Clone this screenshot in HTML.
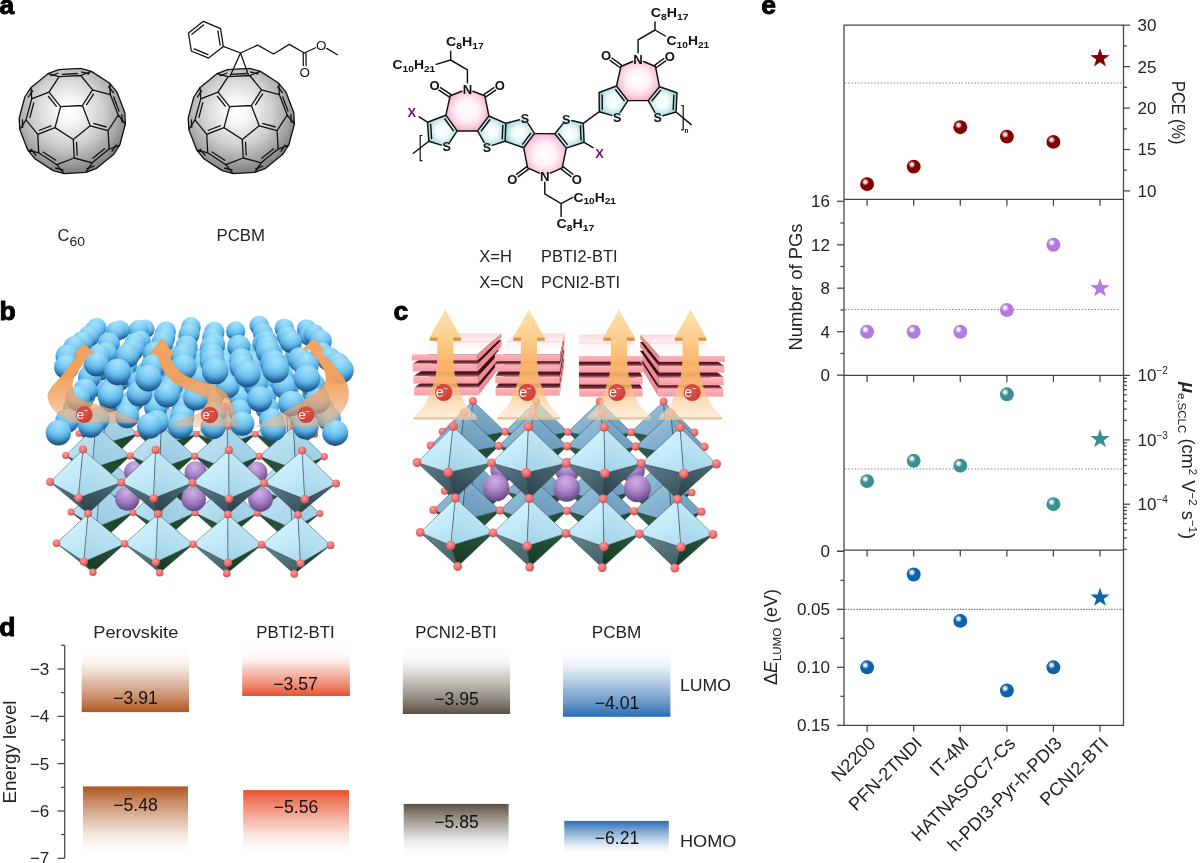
<!DOCTYPE html>
<html><head><meta charset="utf-8"><title>Figure</title>
<style>
html,body{margin:0;padding:0;background:#fff;}
body{width:1200px;height:863px;overflow:hidden;font-family:"Liberation Sans",sans-serif;}
svg{display:block;font-family:"Liberation Sans",sans-serif;}
</style></head><body>
<svg width="1200" height="863" viewBox="0 0 1200 863">
<rect width="1200" height="863" fill="#fff"/>
<g id="panel_d">
<defs>
<linearGradient id="dPerL" x1="0" y1="0" x2="0" y2="1"><stop offset="0" stop-color="#b0561f" stop-opacity="0"/><stop offset="0.15" stop-color="#b0561f" stop-opacity="0.025"/><stop offset="0.3" stop-color="#b0561f" stop-opacity="0.1"/><stop offset="0.55" stop-color="#b0561f" stop-opacity="0.4"/><stop offset="0.8" stop-color="#b0561f" stop-opacity="0.7"/><stop offset="1" stop-color="#b0561f"/></linearGradient>
<linearGradient id="dPerH" x1="0" y1="0" x2="0" y2="1"><stop offset="0" stop-color="#b0561f"/><stop offset="0.2" stop-color="#b0561f" stop-opacity="0.72"/><stop offset="0.45" stop-color="#b0561f" stop-opacity="0.42"/><stop offset="0.7" stop-color="#b0561f" stop-opacity="0.14"/><stop offset="0.88" stop-color="#b0561f" stop-opacity="0.03"/><stop offset="1" stop-color="#b0561f" stop-opacity="0"/></linearGradient>
<linearGradient id="dPbtL" x1="0" y1="0" x2="0" y2="1"><stop offset="0" stop-color="#e8512e" stop-opacity="0"/><stop offset="0.15" stop-color="#e8512e" stop-opacity="0.025"/><stop offset="0.3" stop-color="#e8512e" stop-opacity="0.1"/><stop offset="0.55" stop-color="#e8512e" stop-opacity="0.4"/><stop offset="0.8" stop-color="#e8512e" stop-opacity="0.7"/><stop offset="1" stop-color="#e8512e"/></linearGradient>
<linearGradient id="dPbtH" x1="0" y1="0" x2="0" y2="1"><stop offset="0" stop-color="#e8512e"/><stop offset="0.2" stop-color="#e8512e" stop-opacity="0.72"/><stop offset="0.45" stop-color="#e8512e" stop-opacity="0.42"/><stop offset="0.7" stop-color="#e8512e" stop-opacity="0.14"/><stop offset="0.88" stop-color="#e8512e" stop-opacity="0.03"/><stop offset="1" stop-color="#e8512e" stop-opacity="0"/></linearGradient>
<linearGradient id="dPcnL" x1="0" y1="0" x2="0" y2="1"><stop offset="0" stop-color="#5a5042" stop-opacity="0"/><stop offset="0.15" stop-color="#5a5042" stop-opacity="0.025"/><stop offset="0.3" stop-color="#5a5042" stop-opacity="0.1"/><stop offset="0.55" stop-color="#5a5042" stop-opacity="0.4"/><stop offset="0.8" stop-color="#5a5042" stop-opacity="0.7"/><stop offset="1" stop-color="#5a5042"/></linearGradient>
<linearGradient id="dPcnH" x1="0" y1="0" x2="0" y2="1"><stop offset="0" stop-color="#5a5042"/><stop offset="0.2" stop-color="#5a5042" stop-opacity="0.72"/><stop offset="0.45" stop-color="#5a5042" stop-opacity="0.42"/><stop offset="0.7" stop-color="#5a5042" stop-opacity="0.14"/><stop offset="0.88" stop-color="#5a5042" stop-opacity="0.03"/><stop offset="1" stop-color="#5a5042" stop-opacity="0"/></linearGradient>
<linearGradient id="dPcbL" x1="0" y1="0" x2="0" y2="1"><stop offset="0" stop-color="#2a6cb2" stop-opacity="0"/><stop offset="0.15" stop-color="#2a6cb2" stop-opacity="0.025"/><stop offset="0.3" stop-color="#2a6cb2" stop-opacity="0.1"/><stop offset="0.55" stop-color="#2a6cb2" stop-opacity="0.4"/><stop offset="0.8" stop-color="#2a6cb2" stop-opacity="0.7"/><stop offset="1" stop-color="#2a6cb2"/></linearGradient>
<linearGradient id="dPcbH" x1="0" y1="0" x2="0" y2="1"><stop offset="0" stop-color="#2a6cb2"/><stop offset="0.2" stop-color="#2a6cb2" stop-opacity="0.72"/><stop offset="0.45" stop-color="#2a6cb2" stop-opacity="0.42"/><stop offset="0.7" stop-color="#2a6cb2" stop-opacity="0.14"/><stop offset="0.88" stop-color="#2a6cb2" stop-opacity="0.03"/><stop offset="1" stop-color="#2a6cb2" stop-opacity="0"/></linearGradient>
</defs>
<rect x="81.7" y="646" width="107.3" height="66.1" fill="url(#dPerL)"/>
<rect x="83" y="786.4" width="105.0" height="68.6" fill="url(#dPerH)"/>
<rect x="242.2" y="646" width="107.7" height="50.0" fill="url(#dPbtL)"/>
<rect x="243.2" y="790.1" width="105.8" height="64.9" fill="url(#dPbtH)"/>
<rect x="402.8" y="646" width="107.3" height="68.0" fill="url(#dPcnL)"/>
<rect x="403.7" y="803.9" width="104.9" height="51.1" fill="url(#dPcnH)"/>
<rect x="563" y="646" width="107.4" height="70.8" fill="url(#dPcbL)"/>
<rect x="564.3" y="820.9" width="104.5" height="34.1" fill="url(#dPcbH)"/>
<g stroke="#444" stroke-width="1.25" fill="none">
<path d="M64.7 645.5V858.3"/>
<path d="M64.7 669.0h-7"/>
<path d="M64.7 716.3h-7"/>
<path d="M64.7 763.6h-7"/>
<path d="M64.7 811.0h-7"/>
<path d="M64.7 858.3h-7"/>
<path d="M64.7 645.3h-3.6"/>
<path d="M64.7 692.7h-3.6"/>
<path d="M64.7 740.0h-3.6"/>
<path d="M64.7 787.3h-3.6"/>
<path d="M64.7 834.6h-3.6"/>
</g>
<g font-size="17" fill="#222">
<text x="49.3" y="674.9" text-anchor="end">−3</text>
<text x="49.3" y="722.2" text-anchor="end">−4</text>
<text x="49.3" y="769.5" text-anchor="end">−5</text>
<text x="49.3" y="816.9" text-anchor="end">−6</text>
<text x="49.3" y="864.2" text-anchor="end">−7</text>
</g>
<text transform="translate(15.5,803.5) rotate(-90)" font-size="17.5" fill="#222" textLength="103" lengthAdjust="spacingAndGlyphs">Energy level</text>
<g font-size="17.4" fill="#222" text-anchor="middle">
<text x="135.8" y="637.8" textLength="85" lengthAdjust="spacingAndGlyphs">Perovskite</text>
<text x="295.5" y="637.8" textLength="78.5" lengthAdjust="spacingAndGlyphs">PBTI2-BTI</text>
<text x="456" y="637.8" textLength="81.5" lengthAdjust="spacingAndGlyphs">PCNI2-BTI</text>
<text x="616.5" y="637.8" textLength="49.5" lengthAdjust="spacingAndGlyphs">PCBM</text>
</g>
<g font-size="17.6" fill="#111" text-anchor="middle">
<text x="135.5" y="704">−3.91</text>
<text x="295.5" y="690">−3.57</text>
<text x="456.5" y="705">−3.95</text>
<text x="617" y="709">−4.01</text>
<text x="135.5" y="811">−5.48</text>
<text x="296" y="813">−5.56</text>
<text x="456.5" y="828">−5.85</text>
<text x="617" y="843.5">−6.21</text>
</g>
<g font-size="17.4" fill="#222"><text x="680" y="691.2" textLength="51" lengthAdjust="spacingAndGlyphs">LUMO</text><text x="680" y="847.2" textLength="56.5" lengthAdjust="spacingAndGlyphs">HOMO</text></g>
<text x="-0.8" y="635.5" font-size="26.5" font-weight="bold" fill="#000" stroke="#000" stroke-width="0.95">d</text>
</g>
<g id="panel_e">
<defs>
<radialGradient id="hl" cx="0.5" cy="0.5" r="0.5"><stop offset="0" stop-color="#fff" stop-opacity="1"/><stop offset="0.35" stop-color="#fff" stop-opacity="0.85"/><stop offset="1" stop-color="#fff" stop-opacity="0"/></radialGradient>
</defs>
<g stroke="#444" stroke-width="1.25" fill="none">
<path d="M844 25.2H1123.5V725.3H844Z"/>
<path d="M844 199.3H1123.5"/>
<path d="M844 375.45H1123.5"/>
<path d="M844 550H1123.5"/>
<path d="M867.1 199.3v6.5"/>
<path d="M913.7 199.3v6.5"/>
<path d="M960.3 199.3v6.5"/>
<path d="M1006.9 199.3v6.5"/>
<path d="M1053.4 199.3v6.5"/>
<path d="M1100.0 199.3v6.5"/>
<path d="M867.1 375.45v6.5"/>
<path d="M913.7 375.45v6.5"/>
<path d="M960.3 375.45v6.5"/>
<path d="M1006.9 375.45v6.5"/>
<path d="M1053.4 375.45v6.5"/>
<path d="M1100.0 375.45v6.5"/>
<path d="M867.1 550v6.5"/>
<path d="M913.7 550v6.5"/>
<path d="M960.3 550v6.5"/>
<path d="M1006.9 550v6.5"/>
<path d="M1053.4 550v6.5"/>
<path d="M1100.0 550v6.5"/>
<path d="M867.1 725.3v6.5"/>
<path d="M913.7 725.3v6.5"/>
<path d="M960.3 725.3v6.5"/>
<path d="M1006.9 725.3v6.5"/>
<path d="M1053.4 725.3v6.5"/>
<path d="M1100.0 725.3v6.5"/>
<path d="M1123.5 25.2h6.5"/>
<path d="M1123.5 45.9h3.4"/>
<path d="M1123.5 66.6h6.5"/>
<path d="M1123.5 87.3h3.4"/>
<path d="M1123.5 108.1h6.5"/>
<path d="M1123.5 128.8h3.4"/>
<path d="M1123.5 149.5h6.5"/>
<path d="M1123.5 170.2h3.4"/>
<path d="M1123.5 190.9h6.5"/>
<path d="M844 201.3h-7"/>
<path d="M844 223.0h-3.6"/>
<path d="M844 244.8h-7"/>
<path d="M844 266.5h-3.6"/>
<path d="M844 288.2h-7"/>
<path d="M844 310.0h-3.6"/>
<path d="M844 331.7h-7"/>
<path d="M844 353.5h-3.6"/>
<path d="M844 375.2h-7"/>
<path d="M1123.5 375.4h6.5"/>
<path d="M1123.5 420.5h3.4"/>
<path d="M1123.5 409.1h3.4"/>
<path d="M1123.5 401.1h3.4"/>
<path d="M1123.5 394.8h3.4"/>
<path d="M1123.5 389.7h3.4"/>
<path d="M1123.5 385.4h3.4"/>
<path d="M1123.5 381.7h3.4"/>
<path d="M1123.5 378.4h3.4"/>
<path d="M1123.5 439.9h6.5"/>
<path d="M1123.5 484.9h3.4"/>
<path d="M1123.5 473.5h3.4"/>
<path d="M1123.5 465.5h3.4"/>
<path d="M1123.5 459.2h3.4"/>
<path d="M1123.5 454.1h3.4"/>
<path d="M1123.5 449.8h3.4"/>
<path d="M1123.5 446.1h3.4"/>
<path d="M1123.5 442.8h3.4"/>
<path d="M1123.5 504.2h6.5"/>
<path d="M1123.5 549.3h3.4"/>
<path d="M1123.5 537.9h3.4"/>
<path d="M1123.5 529.9h3.4"/>
<path d="M1123.5 523.6h3.4"/>
<path d="M1123.5 518.5h3.4"/>
<path d="M1123.5 514.2h3.4"/>
<path d="M1123.5 510.5h3.4"/>
<path d="M1123.5 507.2h3.4"/>
<path d="M844 551.3h-7"/>
<path d="M844 551.3h-7"/>
<path d="M844 580.3h-3.6"/>
<path d="M844 609.3h-7"/>
<path d="M844 638.3h-3.6"/>
<path d="M844 667.3h-7"/>
<path d="M844 696.3h-3.6"/>
<path d="M844 725.3h-7"/>
</g>
<g stroke="#8a8a8a" stroke-width="1.1" stroke-dasharray="1.5 1.74" fill="none">
<path d="M845 83H1123.5"/><path d="M845 309.5H1119.5"/><path d="M845 469H1123.5"/>
</g>
<path d="M845 609.3H1123.5" stroke="#555" stroke-width="0.9" stroke-dasharray="1.6 1.2" fill="none"/>
<circle cx="867.1" cy="184.1" r="6.95" fill="#800000"/><circle cx="865.3000000000001" cy="182.0" r="3.7" fill="url(#hl)"/>
<circle cx="913.7" cy="166.6" r="6.95" fill="#800000"/><circle cx="911.9000000000001" cy="164.5" r="3.7" fill="url(#hl)"/>
<circle cx="960.3" cy="127.2" r="6.95" fill="#800000"/><circle cx="958.5" cy="125.10000000000001" r="3.7" fill="url(#hl)"/>
<circle cx="1006.9" cy="136.6" r="6.95" fill="#800000"/><circle cx="1005.1" cy="134.5" r="3.7" fill="url(#hl)"/>
<circle cx="1053.4" cy="141.9" r="6.95" fill="#800000"/><circle cx="1051.6000000000001" cy="139.8" r="3.7" fill="url(#hl)"/>
<polygon points="1100.00,48.20 1102.35,55.06 1109.61,55.18 1103.80,59.54 1105.94,66.47 1100.00,62.30 1094.06,66.47 1096.20,59.54 1090.39,55.18 1097.65,55.06" fill="#800000"/>
<circle cx="867.1" cy="331.725" r="6.95" fill="#b07adf"/><circle cx="865.3000000000001" cy="329.625" r="3.7" fill="url(#hl)"/>
<circle cx="913.7" cy="331.725" r="6.95" fill="#b07adf"/><circle cx="911.9000000000001" cy="329.625" r="3.7" fill="url(#hl)"/>
<circle cx="960.3" cy="331.725" r="6.95" fill="#b07adf"/><circle cx="958.5" cy="329.625" r="3.7" fill="url(#hl)"/>
<circle cx="1006.9" cy="309.9875" r="6.95" fill="#b07adf"/><circle cx="1005.1" cy="307.8875" r="3.7" fill="url(#hl)"/>
<circle cx="1053.4" cy="244.775" r="6.95" fill="#b07adf"/><circle cx="1051.6000000000001" cy="242.675" r="3.7" fill="url(#hl)"/>
<polygon points="1100.00,278.15 1102.35,285.01 1109.61,285.13 1103.80,289.49 1105.94,296.42 1100.00,292.25 1094.06,296.42 1096.20,289.49 1090.39,285.13 1097.65,285.01" fill="#b07adf"/>
<circle cx="867.1" cy="481.1" r="6.95" fill="#3a8f93"/><circle cx="865.3000000000001" cy="479.0" r="3.7" fill="url(#hl)"/>
<circle cx="913.7" cy="460.8" r="6.95" fill="#3a8f93"/><circle cx="911.9000000000001" cy="458.7" r="3.7" fill="url(#hl)"/>
<circle cx="960.3" cy="465.7" r="6.95" fill="#3a8f93"/><circle cx="958.5" cy="463.59999999999997" r="3.7" fill="url(#hl)"/>
<circle cx="1006.9" cy="394.3" r="6.95" fill="#3a8f93"/><circle cx="1005.1" cy="392.2" r="3.7" fill="url(#hl)"/>
<circle cx="1053.4" cy="504.2" r="6.95" fill="#3a8f93"/><circle cx="1051.6000000000001" cy="502.09999999999997" r="3.7" fill="url(#hl)"/>
<polygon points="1100.00,429.10 1102.35,435.96 1109.61,436.08 1103.80,440.44 1105.94,447.37 1100.00,443.20 1094.06,447.37 1096.20,440.44 1090.39,436.08 1097.65,435.96" fill="#3a8f93"/>
<circle cx="867.1" cy="667.3" r="6.95" fill="#0b62ad"/><circle cx="865.3000000000001" cy="665.1999999999999" r="3.7" fill="url(#hl)"/>
<circle cx="913.7" cy="574.5" r="6.95" fill="#0b62ad"/><circle cx="911.9000000000001" cy="572.4" r="3.7" fill="url(#hl)"/>
<circle cx="960.3" cy="620.9" r="6.95" fill="#0b62ad"/><circle cx="958.5" cy="618.8" r="3.7" fill="url(#hl)"/>
<circle cx="1006.9" cy="690.5" r="6.95" fill="#0b62ad"/><circle cx="1005.1" cy="688.4" r="3.7" fill="url(#hl)"/>
<circle cx="1053.4" cy="667.3" r="6.95" fill="#0b62ad"/><circle cx="1051.6000000000001" cy="665.1999999999999" r="3.7" fill="url(#hl)"/>
<polygon points="1100.00,587.60 1102.35,594.46 1109.61,594.58 1103.80,598.94 1105.94,605.87 1100.00,601.70 1094.06,605.87 1096.20,598.94 1090.39,594.58 1097.65,594.46" fill="#0b62ad"/>
<g font-size="17" fill="#222">
<text x="1137.5" y="31.1">30</text>
<text x="1137.5" y="72.5">25</text>
<text x="1137.5" y="114.0">20</text>
<text x="1137.5" y="155.4">15</text>
<text x="1137.5" y="196.8">10</text>
<text x="830" y="207.2" text-anchor="end">16</text>
<text x="830" y="250.7" text-anchor="end">12</text>
<text x="830" y="294.1" text-anchor="end">8</text>
<text x="830" y="337.6" text-anchor="end">4</text>
<text x="830" y="381.1" text-anchor="end">0</text>
<text x="830" y="557.2" text-anchor="end">0</text>
<text x="830" y="615.2" text-anchor="end">0.05</text>
<text x="830" y="673.2" text-anchor="end">0.10</text>
<text x="830" y="731.2" text-anchor="end">0.15</text>
<text x="1137.5" y="381.3">10<tspan font-size="10" dy="-7">−2</tspan></text>
<text x="1137.5" y="445.8">10<tspan font-size="10" dy="-7">−3</tspan></text>
<text x="1137.5" y="510.1">10<tspan font-size="10" dy="-7">−4</tspan></text>
</g>
<g font-size="17.5" fill="#222">
<text transform="translate(1172,81) rotate(90)" textLength="63.5" lengthAdjust="spacingAndGlyphs">PCE (%)</text>
<text transform="translate(802,350.5) rotate(-90)" textLength="127" lengthAdjust="spacingAndGlyphs">Number of PGs</text>
<text transform="translate(1181.5,382) rotate(90)" font-size="18.3"><tspan font-style="italic" font-weight="bold">μ</tspan><tspan font-size="11.5" dy="4">e,SCLC</tspan><tspan dy="-4"> (cm</tspan><tspan font-size="11.5" dy="-7">2</tspan><tspan dy="7"> V</tspan><tspan font-size="11.5" dy="-7">−2</tspan><tspan dy="7"> s</tspan><tspan font-size="11.5" dy="-7">−1</tspan><tspan dy="7">)</tspan></text>
<text transform="translate(776.8,685) rotate(-90)" font-size="17.9">Δ<tspan font-style="italic">E</tspan><tspan font-size="11.5" dy="4">LUMO</tspan><tspan dy="-4"> (eV)</tspan></text>
</g>
<g font-size="18.2" fill="#222" text-anchor="end">
<text transform="translate(876.6,744.6) rotate(-45)">N2200</text>
<text transform="translate(923.2,744.6) rotate(-45)">PFN-2TNDI</text>
<text transform="translate(969.8,744.6) rotate(-45)">IT-4M</text>
<text transform="translate(1016.4,744.6) rotate(-45)">HATNASOC7-Cs</text>
<text transform="translate(1062.9,744.6) rotate(-45)">h-PDI3-Pyr-h-PDI3</text>
<text transform="translate(1109.5,744.6) rotate(-45)">PCNI2-BTI</text>
</g>
<text x="761.3" y="14.2" font-size="26.5" font-weight="bold" fill="#000" stroke="#000" stroke-width="0.95">e</text>
</g>
<g id="panel_a">
<defs><radialGradient id="ballg" cx="0.46" cy="0.40" r="0.60"><stop offset="0" stop-color="#ffffff"/><stop offset="0.2" stop-color="#f6f6f6"/><stop offset="0.55" stop-color="#d0d0d0"/><stop offset="0.82" stop-color="#a2a2a2"/><stop offset="1" stop-color="#7e7e7e"/></radialGradient></defs>
<polygon points="19.2,118.0 24.8,97.0 31.1,87.4 48.0,73.7 58.7,69.6 80.5,68.4 91.5,71.4 109.8,83.3 117.0,92.2 124.8,112.5 125.4,124.0 119.8,145.0 113.5,154.6 96.6,168.3 85.9,172.4 64.1,173.6 53.1,170.6 34.8,158.7 27.6,149.8 19.8,129.5" fill="url(#ballg)" stroke="none"/>
<path d="M90.2 125.8L73.3 139.5M82.4 105.5L90.2 125.8M82.4 105.5L60.6 106.6M60.6 106.6L55.0 127.6M73.3 139.5L55.0 127.6M80.8 75.5L91.5 71.4M92.5 89.9L80.8 75.5M92.5 89.9L110.4 94.7M110.4 94.7L109.8 83.3M109.8 83.3L91.5 71.4M108.1 130.6L109.1 149.1M109.1 149.1L119.8 145.0M125.4 124.0L119.8 145.0M118.2 115.0L125.4 124.0M108.1 130.6L118.2 115.0M59.1 76.6L48.0 73.7M48.0 73.7L31.1 87.4M31.7 98.8L31.1 87.4M49.0 92.2L31.7 98.8M49.0 92.2L59.1 76.6M74.2 158.0L92.1 162.8M74.2 158.0L56.9 164.7M56.9 164.7L64.1 173.6M85.9 172.4L64.1 173.6M92.1 162.8L85.9 172.4M19.8 129.5L27.6 149.8M38.7 152.8L27.6 149.8M37.7 134.3L38.7 152.8M37.7 134.3L26.0 119.9M26.0 119.9L19.8 129.5M82.4 105.5L92.5 89.9M90.2 125.8L108.1 130.6M110.4 94.7L118.2 115.0M80.8 75.5L59.1 76.6M60.6 106.6L49.0 92.2M109.1 149.1L92.1 162.8M73.3 139.5L74.2 158.0M55.0 127.6L37.7 134.3M31.7 98.8L26.0 119.9M56.9 164.7L38.7 152.8M109.8 83.3L117.0 92.2M125.4 124.0L124.8 112.5M117.0 92.2L124.8 112.5M48.0 73.7L58.7 69.6M91.5 71.4L80.5 68.4M80.5 68.4L58.7 69.6M119.8 145.0L113.5 154.6M85.9 172.4L96.6 168.3M113.5 154.6L96.6 168.3M19.8 129.5L19.2 118.0M31.1 87.4L24.8 97.0M24.8 97.0L19.2 118.0M27.6 149.8L34.8 158.7M53.1 170.6L34.8 158.7M64.1 173.6L53.1 170.6" stroke="#111" stroke-width="1.3" fill="none" stroke-linecap="round"/>
<path d="M86.3 105.1L93.8 93.6M93.3 123.4L106.6 127.0M113.5 96.6L119.2 111.6M77.9 73.5L61.8 74.3M56.7 106.7L48.1 96.0M104.9 148.5L92.4 158.6M76.5 141.8L77.2 155.5M51.6 125.6L38.8 130.5M33.9 102.4L29.8 117.9M56.2 160.5L42.7 151.7M108.3 86.4L113.7 93.0M122.2 122.6L121.8 114.2M50.5 76.0L58.4 73.0M89.3 74.0L81.1 71.8M116.4 144.6L111.7 151.7M86.2 169.0L94.1 166.0M22.8 127.8L22.4 119.4M32.9 90.3L28.2 97.4M30.9 149.0L36.3 155.6M63.5 170.2L55.3 168.0" stroke="#111" stroke-width="1.3" fill="none" stroke-linecap="butt"/>
<polygon points="188.2,118.0 193.8,97.0 200.1,87.4 217.0,73.7 227.7,69.6 249.5,68.4 260.5,71.4 278.8,83.3 286.0,92.2 293.8,112.5 294.4,124.0 288.8,145.0 282.5,154.6 265.6,168.3 254.9,172.4 233.1,173.6 222.1,170.6 203.8,158.7 196.6,149.8 188.8,129.5" fill="url(#ballg)" stroke="none"/>
<path d="M259.2 125.8L242.3 139.5M251.4 105.5L259.2 125.8M251.4 105.5L229.6 106.6M229.6 106.6L224.0 127.6M242.3 139.5L224.0 127.6M249.8 75.5L260.5 71.4M261.5 89.9L249.8 75.5M261.5 89.9L279.4 94.7M279.4 94.7L278.8 83.3M278.8 83.3L260.5 71.4M277.1 130.6L278.1 149.1M278.1 149.1L288.8 145.0M294.4 124.0L288.8 145.0M287.2 115.0L294.4 124.0M277.1 130.6L287.2 115.0M228.1 76.6L217.0 73.7M217.0 73.7L200.1 87.4M200.7 98.8L200.1 87.4M218.0 92.2L200.7 98.8M218.0 92.2L228.1 76.6M243.2 158.0L261.1 162.8M243.2 158.0L225.9 164.7M225.9 164.7L233.1 173.6M254.9 172.4L233.1 173.6M261.1 162.8L254.9 172.4M188.8 129.5L196.6 149.8M207.7 152.8L196.6 149.8M206.7 134.3L207.7 152.8M206.7 134.3L195.0 119.9M195.0 119.9L188.8 129.5M251.4 105.5L261.5 89.9M259.2 125.8L277.1 130.6M279.4 94.7L287.2 115.0M249.8 75.5L228.1 76.6M229.6 106.6L218.0 92.2M278.1 149.1L261.1 162.8M242.3 139.5L243.2 158.0M224.0 127.6L206.7 134.3M200.7 98.8L195.0 119.9M225.9 164.7L207.7 152.8M278.8 83.3L286.0 92.2M294.4 124.0L293.8 112.5M286.0 92.2L293.8 112.5M217.0 73.7L227.7 69.6M260.5 71.4L249.5 68.4M249.5 68.4L227.7 69.6M288.8 145.0L282.5 154.6M254.9 172.4L265.6 168.3M282.5 154.6L265.6 168.3M188.8 129.5L188.2 118.0M200.1 87.4L193.8 97.0M193.8 97.0L188.2 118.0M196.6 149.8L203.8 158.7M222.1 170.6L203.8 158.7M233.1 173.6L222.1 170.6" stroke="#111" stroke-width="1.3" fill="none" stroke-linecap="round"/>
<path d="M255.3 105.1L262.8 93.6M262.3 123.4L275.6 127.0M282.5 96.6L288.2 111.6M246.9 73.5L230.8 74.3M225.7 106.7L217.1 96.0M273.9 148.5L261.4 158.6M245.5 141.8L246.2 155.5M220.6 125.6L207.8 130.5M202.9 102.4L198.8 117.9M225.2 160.5L211.7 151.7M277.3 86.4L282.7 93.0M291.2 122.6L290.8 114.2M219.5 76.0L227.4 73.0M258.3 74.0L250.1 71.8M285.4 144.6L280.7 151.7M255.2 169.0L263.1 166.0M191.8 127.8L191.4 119.4M201.9 90.3L197.2 97.4M199.9 149.0L205.3 155.6M232.5 170.2L224.3 168.0" stroke="#111" stroke-width="1.3" fill="none" stroke-linecap="butt"/>
<path d="M240.5 53.0L230.2 76.0M240.5 53.0L248.7 75.7M223.3 46.4L220.6 28.6M220.6 28.6L203.4 21.3M203.4 21.3L188.5 33.1M188.5 33.1L191.3 51.0M191.3 51.0L208.6 58.1M208.6 58.1L223.3 46.4M220.1 45.1L217.9 30.8M203.8 24.8L191.9 34.3M194.2 48.9L208.0 54.6M240.5 53.0L223.3 46.4M240.5 53.0L257.7 45.1M257.7 45.1L273.5 54.0M273.5 54.0L289.3 44.4M289.3 44.4L304.4 53.0M304.4 53.0L315.6 47.7M326.7 48.4L337.4 54.7M303.2 53.2L303.3 65.6M306.0 53.2L306.1 65.6" stroke="#111" stroke-width="1.25" fill="none" stroke-linecap="round" stroke-linejoin="round"/>
<text x="321.2" y="49.9" font-size="13.4" font-weight="normal" fill="#111" text-anchor="middle">O</text>
<text x="304.7" y="76.7" font-size="13.4" font-weight="normal" fill="#111" text-anchor="middle">O</text>
<defs><radialGradient id="pinkg" cx="0.5" cy="0.5" r="0.55"><stop offset="0" stop-color="#ffffff"/><stop offset="0.45" stop-color="#fff3f7"/><stop offset="0.75" stop-color="#fbcfdf"/><stop offset="1" stop-color="#f59fc0"/></radialGradient><radialGradient id="tealg" cx="0.5" cy="0.5" r="0.55"><stop offset="0" stop-color="#ffffff"/><stop offset="0.4" stop-color="#f0f9f9"/><stop offset="0.78" stop-color="#b9e0e0"/><stop offset="1" stop-color="#84c6c6"/></radialGradient></defs>
<polygon points="467.4,89.2 450.2,95.7 445.9,115.2 457.2,130.9 477.5,130.9 488.9,116.0 484.8,95.7" fill="url(#pinkg)"/>
<polygon points="534.4,133.4 554.9,133.8 566.3,148.1 562.2,167.9 544.8,175.7 527.6,167.9 523.7,147.8" fill="url(#pinkg)"/>
<polygon points="638.1,59.2 620.9,66.5 616.5,86.0 627.9,100.6 648.2,100.6 659.5,86.8 655.5,66.5" fill="url(#pinkg)"/>
<polygon points="445.9,115.2 457.2,130.9 446.7,146.8 428.8,141.2 427.5,122.2" fill="url(#tealg)"/>
<polygon points="488.9,116.0 477.5,130.9 486.9,147.2 505.1,141.2 505.9,123.3" fill="url(#tealg)"/>
<polygon points="505.9,123.3 524.9,118.4 534.4,133.4 523.7,147.8 505.1,141.2" fill="url(#tealg)"/>
<polygon points="554.9,133.8 566.3,119.2 583.3,123.3 584.1,142.3 566.3,148.1" fill="url(#tealg)"/>
<polygon points="599.3,111.7 599.1,92.5 616.5,86.0 627.9,100.6 617.2,117.0" fill="url(#tealg)"/>
<polygon points="659.5,86.8 648.2,100.6 657.6,117.2 676.1,112.0 677.0,92.8" fill="url(#tealg)"/>
<path d="M461.8 91.3L450.2 95.7M450.2 95.7L445.9 115.2M445.9 115.2L457.2 130.9M457.2 130.9L477.5 130.9M477.5 130.9L488.9 116.0M488.9 116.0L484.8 95.7M484.8 95.7L473.0 91.3M534.4 133.4L554.9 133.8M554.9 133.8L566.3 148.1M566.3 148.1L562.2 167.9M562.2 167.9L550.3 173.2M539.3 173.2L527.6 167.9M527.6 167.9L523.7 147.8M523.7 147.8L534.4 133.4M632.6 61.5L620.9 66.5M620.9 66.5L616.5 86.0M616.5 86.0L627.9 100.6M627.9 100.6L648.2 100.6M648.2 100.6L659.5 86.8M659.5 86.8L655.5 66.5M655.5 66.5L643.6 61.5M457.2 130.9L449.8 142.1M441.4 145.1L428.8 141.2M428.8 141.2L427.5 122.2M427.5 122.2L445.9 115.2M477.5 130.9L484.1 142.3M492.2 145.4L505.1 141.2M505.1 141.2L505.9 123.3M505.9 123.3L488.9 116.0M505.9 123.3L519.5 119.8M527.9 123.1L534.4 133.4M523.7 147.8L505.1 141.2M554.9 133.8L562.9 123.6M571.7 120.5L583.3 123.3M583.3 123.3L584.1 142.3M584.1 142.3L566.3 148.1M599.3 111.7L599.1 92.5M599.1 92.5L616.5 86.0M627.9 100.6L620.3 112.3M611.8 115.4L599.3 111.7M648.2 100.6L654.8 112.3M663.0 115.7L676.1 112.0M676.1 112.0L677.0 92.8M677.0 92.8L659.5 86.8M444.9 119.0L453.3 130.6M431.6 138.5L430.7 124.5M489.8 119.8L481.4 130.8M502.8 125.5L502.2 138.7M530.6 133.5L522.7 144.1M558.7 133.8L567.2 144.4M580.4 125.9L581.0 140.0M602.3 109.2L602.1 95.0M615.6 89.7L624.1 100.5M660.4 90.5L652.0 100.7M673.2 109.4L673.9 95.2M450.8 94.3L440.5 87.6M449.1 96.8L438.9 90.1M485.9 96.8L495.6 90.2M484.2 94.3L493.9 87.7M526.5 166.9L516.5 174.3M528.3 169.3L518.3 176.7M561.5 169.3L571.0 176.6M563.4 166.9L572.8 174.2M621.5 65.1L611.9 58.0M619.8 67.5L610.1 60.4M656.6 67.5L665.6 60.9M654.8 65.1L663.8 58.5M467.4 82.7L467.4 69.8M467.4 69.8L450.7 60.0M450.7 60.0L450.7 51.1M450.7 60.0L436.1 64.4M544.8 182.2L544.8 193.9M544.8 193.9L561.1 203.6M561.1 203.6L572.8 197.4M561.1 203.6L561.1 216.6M638.1 52.7L638.1 39.8M638.1 39.8L655.0 30.0M655.0 30.0L655.0 21.9M655.0 30.0L665.2 36.0M427.5 122.2L419.1 116.8M584.1 142.3L593.0 147.6M583.3 123.3L599.3 111.7M428.8 141.2L413.4 153.3M676.1 112.0L691.2 124.6" stroke="#111" stroke-width="1.45" fill="none" stroke-linecap="round" stroke-linejoin="round"/>
<path d="M422.3 135.5H420.2V160.6H422.3M681.2 105.5H683.2V129.8H681.2" stroke="#111" stroke-width="1.2" fill="none"/>
<text x="446.7" y="151.3" font-size="12.6" font-weight="bold" fill="#111" text-anchor="middle">S</text>
<text x="486.9" y="151.7" font-size="12.6" font-weight="bold" fill="#111" text-anchor="middle">S</text>
<text x="524.9" y="122.9" font-size="12.6" font-weight="bold" fill="#111" text-anchor="middle">S</text>
<text x="566.3" y="123.7" font-size="12.6" font-weight="bold" fill="#111" text-anchor="middle">S</text>
<text x="617.2" y="121.5" font-size="12.6" font-weight="bold" fill="#111" text-anchor="middle">S</text>
<text x="657.6" y="121.7" font-size="12.6" font-weight="bold" fill="#111" text-anchor="middle">S</text>
<text x="467.4" y="94.0" font-size="13.2" font-weight="bold" fill="#111" text-anchor="middle">N</text>
<text x="544.8" y="180.5" font-size="13.2" font-weight="bold" fill="#111" text-anchor="middle">N</text>
<text x="638.1" y="64.0" font-size="13.2" font-weight="bold" fill="#111" text-anchor="middle">N</text>
<text x="434.5" y="90.2" font-size="13" font-weight="bold" fill="#111" text-anchor="middle">O</text>
<text x="499.9" y="90.2" font-size="13" font-weight="bold" fill="#111" text-anchor="middle">O</text>
<text x="512.4" y="183.9" font-size="13" font-weight="bold" fill="#111" text-anchor="middle">O</text>
<text x="576.8" y="183.9" font-size="13" font-weight="bold" fill="#111" text-anchor="middle">O</text>
<text x="606.0" y="60.2" font-size="13" font-weight="bold" fill="#111" text-anchor="middle">O</text>
<text x="669.7" y="60.7" font-size="13" font-weight="bold" fill="#111" text-anchor="middle">O</text>
<text x="411.8" y="116.6" font-size="12.8" font-weight="bold" fill="#7a1080" text-anchor="middle">X</text>
<text x="599.5" y="157.6" font-size="12.8" font-weight="bold" fill="#7a1080" text-anchor="middle">X</text>
<g font-size="12.6" font-weight="bold" fill="#111">
<text x="445.9" y="46.2" textLength="37.8" lengthAdjust="spacingAndGlyphs">C<tspan font-size="9.2" dy="2.6">8</tspan><tspan dy="-2.6">H</tspan><tspan font-size="9.2" dy="2.6">17</tspan></text>
<text x="392.6" y="68.9" textLength="42.6" lengthAdjust="spacingAndGlyphs">C<tspan font-size="9.2" dy="2.6">10</tspan><tspan dy="-2.6">H</tspan><tspan font-size="9.2" dy="2.6">21</tspan></text>
<text x="573.4" y="201.6" textLength="42.6" lengthAdjust="spacingAndGlyphs">C<tspan font-size="9.2" dy="2.6">10</tspan><tspan dy="-2.6">H</tspan><tspan font-size="9.2" dy="2.6">21</tspan></text>
<text x="556.5" y="227.9" textLength="37.8" lengthAdjust="spacingAndGlyphs">C<tspan font-size="9.2" dy="2.6">8</tspan><tspan dy="-2.6">H</tspan><tspan font-size="9.2" dy="2.6">17</tspan></text>
<text x="650.7" y="17" textLength="37.8" lengthAdjust="spacingAndGlyphs">C<tspan font-size="9.2" dy="2.6">8</tspan><tspan dy="-2.6">H</tspan><tspan font-size="9.2" dy="2.6">17</tspan></text>
<text x="666.6" y="45.4" textLength="42.6" lengthAdjust="spacingAndGlyphs">C<tspan font-size="9.2" dy="2.6">10</tspan><tspan dy="-2.6">H</tspan><tspan font-size="9.2" dy="2.6">21</tspan></text>
</g>
<text x="684.5" y="132.5" font-size="6.5" font-weight="bold" fill="#111">n</text>
<g font-size="16.5" fill="#222">
<text x="57.5" y="241.3">C<tspan font-size="12.3" dy="4.3" textLength="15.5" lengthAdjust="spacingAndGlyphs">60</tspan></text>
<text x="216.5" y="241.3" textLength="48.5" lengthAdjust="spacingAndGlyphs">PCBM</text>
<text x="479.3" y="262.3">X=H</text><text x="541" y="262.3" textLength="76.5" lengthAdjust="spacingAndGlyphs">PBTI2-BTI</text>
<text x="479.3" y="288.4">X=CN</text><text x="541" y="288.4" textLength="79" lengthAdjust="spacingAndGlyphs">PCNI2-BTI</text>
</g>
<text x="-0.5" y="13.8" font-size="26.5" font-weight="bold" fill="#000" stroke="#000" stroke-width="0.95">a</text>
</g>
<g id="panel_b">
<defs>
<radialGradient id="gPink" cx="0.42" cy="0.35" r="0.7"><stop offset="0" stop-color="#ff9a96"/><stop offset="0.55" stop-color="#ee6f6f"/><stop offset="1" stop-color="#b84a4e"/></radialGradient>
<radialGradient id="gPurple" cx="0.45" cy="0.25" r="0.8"><stop offset="0" stop-color="#d0b0e6"/><stop offset="0.45" stop-color="#a985c8"/><stop offset="0.85" stop-color="#6f5292"/><stop offset="1" stop-color="#4d3868"/></radialGradient>
<radialGradient id="gBlue" cx="0.5" cy="0.14" r="0.9"><stop offset="0" stop-color="#a6e2fb"/><stop offset="0.3" stop-color="#86d2f6"/><stop offset="0.5" stop-color="#6cc0ee"/><stop offset="0.64" stop-color="#52a6db"/><stop offset="0.76" stop-color="#3680b7"/><stop offset="0.88" stop-color="#235d90"/><stop offset="1" stop-color="#143c60"/></radialGradient>
<radialGradient id="gE" cx="0.5" cy="0.4" r="0.6"><stop offset="0" stop-color="#e2564a"/><stop offset="1" stop-color="#cf3a32"/></radialGradient>
<linearGradient id="fUL" x1="0.2" y1="0" x2="0.6" y2="1"><stop offset="0" stop-color="#d9f5fd"/><stop offset="0.55" stop-color="#c6ecf9"/><stop offset="1" stop-color="#b4e0f1"/></linearGradient>
<linearGradient id="fUR" x1="0.6" y1="0" x2="0.3" y2="1"><stop offset="0" stop-color="#c8ebf8"/><stop offset="0.6" stop-color="#b3dff0"/><stop offset="1" stop-color="#a2d3e8"/></linearGradient>
<linearGradient id="fDL" x1="0" y1="0" x2="0.5" y2="1"><stop offset="0" stop-color="#5f818e"/><stop offset="1" stop-color="#3b5560"/></linearGradient>
<linearGradient id="fDR" x1="1" y1="0" x2="0.4" y2="1"><stop offset="0" stop-color="#4f6f7a"/><stop offset="1" stop-color="#2e454f"/></linearGradient>
<linearGradient id="fDLb" x1="0" y1="0" x2="0.5" y2="1"><stop offset="0" stop-color="#64898f"/><stop offset="1" stop-color="#456469"/></linearGradient>
<linearGradient id="fDRb" x1="1" y1="0" x2="0.4" y2="1"><stop offset="0" stop-color="#2a5a3c"/><stop offset="1" stop-color="#173c25"/></linearGradient>
<linearGradient id="fUL1" x1="0.2" y1="0" x2="0.6" y2="1"><stop offset="0" stop-color="#c6e9f6"/><stop offset="1" stop-color="#a9d6ea"/></linearGradient>
<linearGradient id="fUR1" x1="0.6" y1="0" x2="0.3" y2="1"><stop offset="0" stop-color="#b3dcee"/><stop offset="1" stop-color="#98c9e0"/></linearGradient>
<linearGradient id="cUL1" x1="0.2" y1="0" x2="0.6" y2="1"><stop offset="0" stop-color="#9cc6dd"/><stop offset="1" stop-color="#7aa9c8"/></linearGradient>
<linearGradient id="cUR1" x1="0.6" y1="0" x2="0.3" y2="1"><stop offset="0" stop-color="#86b4d0"/><stop offset="1" stop-color="#6896b8"/></linearGradient>
</defs>
<circle cx="115.6" cy="474.8" r="3.0" fill="url(#gPink)"/>
<circle cx="170.0" cy="475.1" r="3.1" fill="url(#gPink)"/>
<circle cx="224.7" cy="475.4" r="3.1" fill="url(#gPink)"/>
<circle cx="279.5" cy="475.6" r="3.1" fill="url(#gPink)"/>
<polygon points="83.1,486.1 113.0,511.2 106.9,498.7" fill="#27523a" stroke="#26363f" stroke-width="0.45" stroke-linejoin="round"/>
<polygon points="139.8,486.4 113.0,511.2 106.9,498.7" fill="#1c4a2c" stroke="#26363f" stroke-width="0.45" stroke-linejoin="round"/>
<polygon points="139.8,486.4 168.8,511.6 166.1,499.0" fill="#27523a" stroke="#26363f" stroke-width="0.45" stroke-linejoin="round"/>
<polygon points="196.6,486.7 168.8,511.6 166.1,499.0" fill="#1c4a2c" stroke="#26363f" stroke-width="0.45" stroke-linejoin="round"/>
<polygon points="196.6,486.7 224.8,511.9 225.6,499.4" fill="#27523a" stroke="#26363f" stroke-width="0.45" stroke-linejoin="round"/>
<polygon points="253.7,487.0 224.8,511.9 225.6,499.4" fill="#1c4a2c" stroke="#26363f" stroke-width="0.45" stroke-linejoin="round"/>
<polygon points="253.7,487.0 281.0,512.3 285.3,499.7" fill="#27523a" stroke="#26363f" stroke-width="0.45" stroke-linejoin="round"/>
<polygon points="310.9,487.3 281.0,512.3 285.3,499.7" fill="#1c4a2c" stroke="#26363f" stroke-width="0.45" stroke-linejoin="round"/>
<circle cx="113.0" cy="511.2" r="3.1" fill="url(#gPink)"/>
<polygon points="83.1,486.1 109.8,460.4 106.9,498.7" fill="url(#fUL1)" stroke="#26363f" stroke-width="0.45" stroke-linejoin="round"/>
<circle cx="168.8" cy="511.6" r="3.1" fill="url(#gPink)"/>
<polygon points="139.8,486.4 109.8,460.4 106.9,498.7" fill="url(#fUR1)" stroke="#26363f" stroke-width="0.45" stroke-linejoin="round"/>
<polygon points="139.8,486.4 167.5,460.7 166.1,499.0" fill="url(#fUL1)" stroke="#26363f" stroke-width="0.45" stroke-linejoin="round"/>
<circle cx="224.8" cy="511.9" r="3.1" fill="url(#gPink)"/>
<polygon points="196.6,486.7 167.5,460.7 166.1,499.0" fill="url(#fUR1)" stroke="#26363f" stroke-width="0.45" stroke-linejoin="round"/>
<polygon points="196.6,486.7 225.5,460.9 225.6,499.4" fill="url(#fUL1)" stroke="#26363f" stroke-width="0.45" stroke-linejoin="round"/>
<circle cx="281.0" cy="512.3" r="3.2" fill="url(#gPink)"/>
<polygon points="253.7,487.0 225.5,460.9 225.6,499.4" fill="url(#fUR1)" stroke="#26363f" stroke-width="0.45" stroke-linejoin="round"/>
<polygon points="253.7,487.0 283.6,461.2 285.3,499.7" fill="url(#fUL1)" stroke="#26363f" stroke-width="0.45" stroke-linejoin="round"/>
<polygon points="310.9,487.3 283.6,461.2 285.3,499.7" fill="url(#fUR1)" stroke="#26363f" stroke-width="0.45" stroke-linejoin="round"/>
<circle cx="112.5" cy="424.0" r="3.1" fill="url(#gPink)"/>
<circle cx="168.8" cy="424.2" r="3.2" fill="url(#gPink)"/>
<circle cx="225.3" cy="424.4" r="3.2" fill="url(#gPink)"/>
<circle cx="282.1" cy="424.6" r="3.2" fill="url(#gPink)"/>
<circle cx="83.1" cy="486.1" r="3.2" fill="url(#gPink)"/>
<circle cx="139.8" cy="486.4" r="3.2" fill="url(#gPink)"/>
<circle cx="196.6" cy="486.7" r="3.2" fill="url(#gPink)"/>
<circle cx="253.7" cy="487.0" r="3.2" fill="url(#gPink)"/>
<circle cx="310.9" cy="487.3" r="3.2" fill="url(#gPink)"/>
<polygon points="78.8,433.5 109.8,460.4 103.2,444.1" fill="#27523a" stroke="#26363f" stroke-width="0.45" stroke-linejoin="round"/>
<polygon points="137.4,433.8 109.8,460.4 103.2,444.1" fill="#1c4a2c" stroke="#26363f" stroke-width="0.45" stroke-linejoin="round"/>
<polygon points="137.4,433.8 167.5,460.7 164.7,444.4" fill="#27523a" stroke="#26363f" stroke-width="0.45" stroke-linejoin="round"/>
<polygon points="196.3,434.0 167.5,460.7 164.7,444.4" fill="#1c4a2c" stroke="#26363f" stroke-width="0.45" stroke-linejoin="round"/>
<polygon points="196.3,434.0 225.5,460.9 226.3,444.6" fill="#27523a" stroke="#26363f" stroke-width="0.45" stroke-linejoin="round"/>
<polygon points="255.4,434.2 225.5,460.9 226.3,444.6" fill="#1c4a2c" stroke="#26363f" stroke-width="0.45" stroke-linejoin="round"/>
<polygon points="255.4,434.2 283.6,461.2 288.3,444.9" fill="#27523a" stroke="#26363f" stroke-width="0.45" stroke-linejoin="round"/>
<polygon points="314.7,434.4 283.6,461.2 288.3,444.9" fill="#1c4a2c" stroke="#26363f" stroke-width="0.45" stroke-linejoin="round"/>
<circle cx="109.8" cy="460.4" r="3.2" fill="url(#gPink)"/>
<polygon points="78.8,433.5 106.3,405.9 103.2,444.1" fill="url(#fUL1)" stroke="#26363f" stroke-width="0.45" stroke-linejoin="round"/>
<circle cx="167.5" cy="460.7" r="3.2" fill="url(#gPink)"/>
<polygon points="137.4,433.8 106.3,405.9 103.2,444.1" fill="url(#fUR1)" stroke="#26363f" stroke-width="0.45" stroke-linejoin="round"/>
<polygon points="137.4,433.8 166.2,406.1 164.7,444.4" fill="url(#fUL1)" stroke="#26363f" stroke-width="0.45" stroke-linejoin="round"/>
<circle cx="225.5" cy="460.9" r="3.3" fill="url(#gPink)"/>
<polygon points="196.3,434.0 166.2,406.1 164.7,444.4" fill="url(#fUR1)" stroke="#26363f" stroke-width="0.45" stroke-linejoin="round"/>
<polygon points="196.3,434.0 226.2,406.3 226.3,444.6" fill="url(#fUL1)" stroke="#26363f" stroke-width="0.45" stroke-linejoin="round"/>
<circle cx="283.6" cy="461.2" r="3.3" fill="url(#gPink)"/>
<polygon points="255.4,434.2 226.2,406.3 226.3,444.6" fill="url(#fUR1)" stroke="#26363f" stroke-width="0.45" stroke-linejoin="round"/>
<polygon points="255.4,434.2 286.5,406.4 288.3,444.9" fill="url(#fUL1)" stroke="#26363f" stroke-width="0.45" stroke-linejoin="round"/>
<polygon points="314.7,434.4 286.5,406.4 288.3,444.9" fill="url(#fUR1)" stroke="#26363f" stroke-width="0.45" stroke-linejoin="round"/>
<circle cx="135.2" cy="472.1" r="11.2" fill="url(#gPurple)"/>
<circle cx="195.7" cy="472.4" r="11.2" fill="url(#gPurple)"/>
<circle cx="256.3" cy="472.7" r="11.2" fill="url(#gPurple)"/>
<circle cx="78.8" cy="433.5" r="3.3" fill="url(#gPink)"/>
<circle cx="137.4" cy="433.8" r="3.3" fill="url(#gPink)"/>
<circle cx="196.3" cy="434.0" r="3.3" fill="url(#gPink)"/>
<circle cx="255.4" cy="434.2" r="3.3" fill="url(#gPink)"/>
<circle cx="314.7" cy="434.4" r="3.3" fill="url(#gPink)"/>
<circle cx="106.9" cy="498.7" r="3.3" fill="url(#gPink)"/>
<circle cx="166.1" cy="499.0" r="3.3" fill="url(#gPink)"/>
<circle cx="225.6" cy="499.4" r="3.3" fill="url(#gPink)"/>
<circle cx="285.3" cy="499.7" r="3.3" fill="url(#gPink)"/>
<circle cx="106.3" cy="405.9" r="3.3" fill="url(#gPink)"/>
<circle cx="166.2" cy="406.1" r="3.4" fill="url(#gPink)"/>
<circle cx="226.2" cy="406.3" r="3.4" fill="url(#gPink)"/>
<circle cx="286.5" cy="406.4" r="3.4" fill="url(#gPink)"/>
<polygon points="71.1,512.1 103.8,539.0 96.5,527.2" fill="#27523a" stroke="#26363f" stroke-width="0.45" stroke-linejoin="round"/>
<polygon points="132.9,512.5 103.8,539.0 96.5,527.2" fill="#1c4a2c" stroke="#26363f" stroke-width="0.45" stroke-linejoin="round"/>
<polygon points="132.9,512.5 164.7,539.4 161.5,527.6" fill="#27523a" stroke="#26363f" stroke-width="0.45" stroke-linejoin="round"/>
<polygon points="195.0,512.8 164.7,539.4 161.5,527.6" fill="#1c4a2c" stroke="#26363f" stroke-width="0.45" stroke-linejoin="round"/>
<polygon points="195.0,512.8 225.7,539.9 226.7,528.0" fill="#27523a" stroke="#26363f" stroke-width="0.45" stroke-linejoin="round"/>
<polygon points="257.3,513.2 225.7,539.9 226.7,528.0" fill="#1c4a2c" stroke="#26363f" stroke-width="0.45" stroke-linejoin="round"/>
<polygon points="257.3,513.2 287.0,540.3 292.1,528.4" fill="#27523a" stroke="#26363f" stroke-width="0.45" stroke-linejoin="round"/>
<polygon points="319.9,513.6 287.0,540.3 292.1,528.4" fill="#1c4a2c" stroke="#26363f" stroke-width="0.45" stroke-linejoin="round"/>
<circle cx="103.8" cy="539.0" r="3.4" fill="url(#gPink)"/>
<polygon points="71.1,512.1 100.0,484.5 96.5,527.2" fill="url(#fUL1)" stroke="#26363f" stroke-width="0.45" stroke-linejoin="round"/>
<circle cx="164.7" cy="539.4" r="3.4" fill="url(#gPink)"/>
<polygon points="132.9,512.5 100.0,484.5 96.5,527.2" fill="url(#fUR1)" stroke="#26363f" stroke-width="0.45" stroke-linejoin="round"/>
<polygon points="132.9,512.5 163.1,484.8 161.5,527.6" fill="url(#fUL1)" stroke="#26363f" stroke-width="0.45" stroke-linejoin="round"/>
<circle cx="225.7" cy="539.9" r="3.4" fill="url(#gPink)"/>
<polygon points="195.0,512.8 163.1,484.8 161.5,527.6" fill="url(#fUR1)" stroke="#26363f" stroke-width="0.45" stroke-linejoin="round"/>
<polygon points="195.0,512.8 226.5,485.2 226.7,528.0" fill="url(#fUL1)" stroke="#26363f" stroke-width="0.45" stroke-linejoin="round"/>
<circle cx="287.0" cy="540.3" r="3.4" fill="url(#gPink)"/>
<polygon points="257.3,513.2 226.5,485.2 226.7,528.0" fill="url(#fUR1)" stroke="#26363f" stroke-width="0.45" stroke-linejoin="round"/>
<polygon points="257.3,513.2 290.1,485.5 292.1,528.4" fill="url(#fUL1)" stroke="#26363f" stroke-width="0.45" stroke-linejoin="round"/>
<polygon points="319.9,513.6 290.1,485.5 292.1,528.4" fill="url(#fUR1)" stroke="#26363f" stroke-width="0.45" stroke-linejoin="round"/>
<circle cx="103.2" cy="444.1" r="3.4" fill="url(#gPink)"/>
<circle cx="164.7" cy="444.4" r="3.4" fill="url(#gPink)"/>
<circle cx="226.3" cy="444.6" r="3.5" fill="url(#gPink)"/>
<circle cx="288.3" cy="444.9" r="3.5" fill="url(#gPink)"/>
<circle cx="71.1" cy="512.1" r="3.5" fill="url(#gPink)"/>
<circle cx="132.9" cy="512.5" r="3.5" fill="url(#gPink)"/>
<circle cx="195.0" cy="512.8" r="3.5" fill="url(#gPink)"/>
<circle cx="257.3" cy="513.2" r="3.5" fill="url(#gPink)"/>
<circle cx="319.9" cy="513.6" r="3.5" fill="url(#gPink)"/>
<polygon points="65.8,455.5 100.0,484.5 92.1,468.3" fill="#27523a" stroke="#26363f" stroke-width="0.45" stroke-linejoin="round"/>
<polygon points="130.1,455.8 100.0,484.5 92.1,468.3" fill="#1c4a2c" stroke="#26363f" stroke-width="0.45" stroke-linejoin="round"/>
<polygon points="130.1,455.8 163.1,484.8 159.7,468.6" fill="#27523a" stroke="#26363f" stroke-width="0.45" stroke-linejoin="round"/>
<polygon points="194.6,456.1 163.1,484.8 159.7,468.6" fill="#1c4a2c" stroke="#26363f" stroke-width="0.45" stroke-linejoin="round"/>
<polygon points="194.6,456.1 226.5,485.2 227.5,468.9" fill="#27523a" stroke="#26363f" stroke-width="0.45" stroke-linejoin="round"/>
<polygon points="259.3,456.3 226.5,485.2 227.5,468.9" fill="#1c4a2c" stroke="#26363f" stroke-width="0.45" stroke-linejoin="round"/>
<polygon points="259.3,456.3 290.1,485.5 295.7,469.3" fill="#27523a" stroke="#26363f" stroke-width="0.45" stroke-linejoin="round"/>
<polygon points="324.3,456.6 290.1,485.5 295.7,469.3" fill="#1c4a2c" stroke="#26363f" stroke-width="0.45" stroke-linejoin="round"/>
<circle cx="100.0" cy="484.5" r="3.5" fill="url(#gPink)"/>
<polygon points="65.8,455.5 95.8,425.6 92.1,468.3" fill="url(#fUL1)" stroke="#26363f" stroke-width="0.45" stroke-linejoin="round"/>
<circle cx="163.1" cy="484.8" r="3.5" fill="url(#gPink)"/>
<polygon points="130.1,455.8 95.8,425.6 92.1,468.3" fill="url(#fUR1)" stroke="#26363f" stroke-width="0.45" stroke-linejoin="round"/>
<polygon points="130.1,455.8 161.4,425.9 159.7,468.6" fill="url(#fUL1)" stroke="#26363f" stroke-width="0.45" stroke-linejoin="round"/>
<circle cx="226.5" cy="485.2" r="3.6" fill="url(#gPink)"/>
<polygon points="194.6,456.1 161.4,425.9 159.7,468.6" fill="url(#fUR1)" stroke="#26363f" stroke-width="0.45" stroke-linejoin="round"/>
<polygon points="194.6,456.1 227.4,426.1 227.5,468.9" fill="url(#fUL1)" stroke="#26363f" stroke-width="0.45" stroke-linejoin="round"/>
<circle cx="290.1" cy="485.5" r="3.6" fill="url(#gPink)"/>
<polygon points="259.3,456.3 227.4,426.1 227.5,468.9" fill="url(#fUR1)" stroke="#26363f" stroke-width="0.45" stroke-linejoin="round"/>
<polygon points="259.3,456.3 293.5,426.3 295.7,469.3" fill="url(#fUL1)" stroke="#26363f" stroke-width="0.45" stroke-linejoin="round"/>
<polygon points="324.3,456.6 293.5,426.3 295.7,469.3" fill="url(#fUR1)" stroke="#26363f" stroke-width="0.45" stroke-linejoin="round"/>
<circle cx="127.4" cy="498.5" r="12.3" fill="url(#gPurple)"/>
<circle cx="193.8" cy="498.9" r="12.3" fill="url(#gPurple)"/>
<circle cx="260.5" cy="499.3" r="12.4" fill="url(#gPurple)"/>
<circle cx="65.8" cy="455.5" r="3.6" fill="url(#gPink)"/>
<circle cx="130.1" cy="455.8" r="3.6" fill="url(#gPink)"/>
<circle cx="194.6" cy="456.1" r="3.6" fill="url(#gPink)"/>
<circle cx="259.3" cy="456.3" r="3.6" fill="url(#gPink)"/>
<circle cx="324.3" cy="456.6" r="3.6" fill="url(#gPink)"/>
<circle cx="96.5" cy="527.2" r="3.6" fill="url(#gPink)"/>
<circle cx="161.5" cy="527.6" r="3.6" fill="url(#gPink)"/>
<circle cx="226.7" cy="528.0" r="3.7" fill="url(#gPink)"/>
<circle cx="292.1" cy="528.4" r="3.7" fill="url(#gPink)"/>
<circle cx="95.8" cy="425.6" r="3.7" fill="url(#gPink)"/>
<circle cx="161.4" cy="425.9" r="3.7" fill="url(#gPink)"/>
<circle cx="227.4" cy="426.1" r="3.7" fill="url(#gPink)"/>
<circle cx="293.5" cy="426.3" r="3.7" fill="url(#gPink)"/>
<polygon points="56.5,543.3 92.9,572.3 83.9,561.7" fill="url(#fDLb)" stroke="#26363f" stroke-width="0.45" stroke-linejoin="round"/>
<polygon points="124.6,543.8 92.9,572.3 83.9,561.7" fill="url(#fDRb)" stroke="#26363f" stroke-width="0.45" stroke-linejoin="round"/>
<polygon points="124.6,543.8 159.7,572.8 155.8,562.2" fill="url(#fDLb)" stroke="#26363f" stroke-width="0.45" stroke-linejoin="round"/>
<polygon points="193.0,544.3 159.7,572.8 155.8,562.2" fill="url(#fDRb)" stroke="#26363f" stroke-width="0.45" stroke-linejoin="round"/>
<polygon points="193.0,544.3 226.8,573.4 228.0,562.8" fill="url(#fDLb)" stroke="#26363f" stroke-width="0.45" stroke-linejoin="round"/>
<polygon points="261.7,544.7 226.8,573.4 228.0,562.8" fill="url(#fDRb)" stroke="#26363f" stroke-width="0.45" stroke-linejoin="round"/>
<polygon points="261.7,544.7 294.2,573.9 300.5,563.3" fill="url(#fDLb)" stroke="#26363f" stroke-width="0.45" stroke-linejoin="round"/>
<polygon points="330.6,545.2 294.2,573.9 300.5,563.3" fill="url(#fDRb)" stroke="#26363f" stroke-width="0.45" stroke-linejoin="round"/>
<circle cx="92.9" cy="572.3" r="3.7" fill="url(#gPink)"/>
<polygon points="56.5,543.3 88.1,513.6 83.9,561.7" fill="url(#fUL)" stroke="#26363f" stroke-width="0.45" stroke-linejoin="round"/>
<circle cx="159.7" cy="572.8" r="3.8" fill="url(#gPink)"/>
<polygon points="124.6,543.8 88.1,513.6 83.9,561.7" fill="url(#fUR)" stroke="#26363f" stroke-width="0.45" stroke-linejoin="round"/>
<polygon points="124.6,543.8 157.8,514.0 155.8,562.2" fill="url(#fUL)" stroke="#26363f" stroke-width="0.45" stroke-linejoin="round"/>
<circle cx="226.8" cy="573.4" r="3.8" fill="url(#gPink)"/>
<polygon points="193.0,544.3 157.8,514.0 155.8,562.2" fill="url(#fUR)" stroke="#26363f" stroke-width="0.45" stroke-linejoin="round"/>
<polygon points="193.0,544.3 227.8,514.4 228.0,562.8" fill="url(#fUL)" stroke="#26363f" stroke-width="0.45" stroke-linejoin="round"/>
<circle cx="294.2" cy="573.9" r="3.8" fill="url(#gPink)"/>
<polygon points="261.7,544.7 227.8,514.4 228.0,562.8" fill="url(#fUR)" stroke="#26363f" stroke-width="0.45" stroke-linejoin="round"/>
<polygon points="261.7,544.7 298.0,514.8 300.5,563.3" fill="url(#fUL)" stroke="#26363f" stroke-width="0.45" stroke-linejoin="round"/>
<polygon points="330.6,545.2 298.0,514.8 300.5,563.3" fill="url(#fUR)" stroke="#26363f" stroke-width="0.45" stroke-linejoin="round"/>
<circle cx="92.1" cy="468.3" r="3.8" fill="url(#gPink)"/>
<circle cx="159.7" cy="468.6" r="3.8" fill="url(#gPink)"/>
<circle cx="227.5" cy="468.9" r="3.8" fill="url(#gPink)"/>
<circle cx="295.7" cy="469.3" r="3.8" fill="url(#gPink)"/>
<circle cx="56.5" cy="543.3" r="3.8" fill="url(#gPink)"/>
<circle cx="124.6" cy="543.8" r="3.8" fill="url(#gPink)"/>
<circle cx="193.0" cy="544.3" r="3.8" fill="url(#gPink)"/>
<circle cx="261.7" cy="544.7" r="3.9" fill="url(#gPink)"/>
<circle cx="330.6" cy="545.2" r="3.9" fill="url(#gPink)"/>
<polygon points="50.2,482.1 88.1,513.6 78.4,497.8" fill="url(#fDL)" stroke="#26363f" stroke-width="0.45" stroke-linejoin="round"/>
<polygon points="121.2,482.5 88.1,513.6 78.4,497.8" fill="url(#fDR)" stroke="#26363f" stroke-width="0.45" stroke-linejoin="round"/>
<polygon points="121.2,482.5 157.8,514.0 153.6,498.2" fill="url(#fDL)" stroke="#26363f" stroke-width="0.45" stroke-linejoin="round"/>
<polygon points="192.5,482.8 157.8,514.0 153.6,498.2" fill="url(#fDR)" stroke="#26363f" stroke-width="0.45" stroke-linejoin="round"/>
<polygon points="192.5,482.8 227.8,514.4 229.0,498.7" fill="url(#fDL)" stroke="#26363f" stroke-width="0.45" stroke-linejoin="round"/>
<polygon points="264.1,483.2 227.8,514.4 229.0,498.7" fill="url(#fDR)" stroke="#26363f" stroke-width="0.45" stroke-linejoin="round"/>
<polygon points="264.1,483.2 298.0,514.8 304.8,499.1" fill="url(#fDL)" stroke="#26363f" stroke-width="0.45" stroke-linejoin="round"/>
<polygon points="336.0,483.6 298.0,514.8 304.8,499.1" fill="url(#fDR)" stroke="#26363f" stroke-width="0.45" stroke-linejoin="round"/>
<circle cx="88.1" cy="513.6" r="3.9" fill="url(#gPink)"/>
<polygon points="50.2,482.1 83.0,449.6 78.4,497.8" fill="url(#fUL)" stroke="#26363f" stroke-width="0.45" stroke-linejoin="round"/>
<circle cx="157.8" cy="514.0" r="3.9" fill="url(#gPink)"/>
<polygon points="121.2,482.5 83.0,449.6 78.4,497.8" fill="url(#fUR)" stroke="#26363f" stroke-width="0.45" stroke-linejoin="round"/>
<polygon points="121.2,482.5 155.7,449.9 153.6,498.2" fill="url(#fUL)" stroke="#26363f" stroke-width="0.45" stroke-linejoin="round"/>
<circle cx="227.8" cy="514.4" r="3.9" fill="url(#gPink)"/>
<polygon points="192.5,482.8 155.7,449.9 153.6,498.2" fill="url(#fUR)" stroke="#26363f" stroke-width="0.45" stroke-linejoin="round"/>
<polygon points="192.5,482.8 228.8,450.2 229.0,498.7" fill="url(#fUL)" stroke="#26363f" stroke-width="0.45" stroke-linejoin="round"/>
<circle cx="298.0" cy="514.8" r="3.9" fill="url(#gPink)"/>
<polygon points="264.1,483.2 228.8,450.2 229.0,498.7" fill="url(#fUR)" stroke="#26363f" stroke-width="0.45" stroke-linejoin="round"/>
<polygon points="264.1,483.2 302.1,450.5 304.8,499.1" fill="url(#fUL)" stroke="#26363f" stroke-width="0.45" stroke-linejoin="round"/>
<polygon points="336.0,483.6 302.1,450.5 304.8,499.1" fill="url(#fUR)" stroke="#26363f" stroke-width="0.45" stroke-linejoin="round"/>
<circle cx="50.2" cy="482.1" r="4.0" fill="url(#gPink)"/>
<circle cx="121.2" cy="482.5" r="4.0" fill="url(#gPink)"/>
<circle cx="192.5" cy="482.8" r="4.0" fill="url(#gPink)"/>
<circle cx="264.1" cy="483.2" r="4.0" fill="url(#gPink)"/>
<circle cx="336.0" cy="483.6" r="4.0" fill="url(#gPink)"/>
<circle cx="83.9" cy="561.7" r="4.0" fill="url(#gPink)"/>
<circle cx="155.8" cy="562.2" r="4.0" fill="url(#gPink)"/>
<circle cx="228.0" cy="562.8" r="4.1" fill="url(#gPink)"/>
<circle cx="300.5" cy="563.3" r="4.1" fill="url(#gPink)"/>
<circle cx="83.0" cy="449.6" r="4.1" fill="url(#gPink)"/>
<circle cx="155.7" cy="449.9" r="4.1" fill="url(#gPink)"/>
<circle cx="228.8" cy="450.2" r="4.1" fill="url(#gPink)"/>
<circle cx="302.1" cy="450.5" r="4.1" fill="url(#gPink)"/>
<circle cx="78.4" cy="497.8" r="4.2" fill="url(#gPink)"/>
<circle cx="153.6" cy="498.2" r="4.2" fill="url(#gPink)"/>
<circle cx="229.0" cy="498.7" r="4.2" fill="url(#gPink)"/>
<circle cx="304.8" cy="499.1" r="4.3" fill="url(#gPink)"/>
<circle cx="101.3" cy="371.1" r="9.4" fill="url(#gBlue)"/>
<circle cx="214.9" cy="372.1" r="9.4" fill="url(#gBlue)"/>
<circle cx="234.7" cy="370.9" r="9.4" fill="url(#gBlue)"/>
<circle cx="145.9" cy="371.3" r="9.4" fill="url(#gBlue)"/>
<circle cx="167.9" cy="372.4" r="9.4" fill="url(#gBlue)"/>
<circle cx="191.4" cy="371.1" r="9.5" fill="url(#gBlue)"/>
<circle cx="305.1" cy="368.6" r="9.5" fill="url(#gBlue)"/>
<circle cx="280.0" cy="368.1" r="9.5" fill="url(#gBlue)"/>
<circle cx="122.9" cy="370.2" r="9.5" fill="url(#gBlue)"/>
<circle cx="257.1" cy="369.0" r="9.5" fill="url(#gBlue)"/>
<circle cx="120.1" cy="329.9" r="9.6" fill="url(#gBlue)"/>
<circle cx="235.7" cy="331.0" r="9.7" fill="url(#gBlue)"/>
<circle cx="154.7" cy="355.5" r="9.7" fill="url(#gBlue)"/>
<circle cx="96.8" cy="327.5" r="9.7" fill="url(#gBlue)"/>
<circle cx="306.5" cy="328.9" r="9.7" fill="url(#gBlue)"/>
<circle cx="246.9" cy="352.1" r="9.7" fill="url(#gBlue)"/>
<circle cx="144.9" cy="329.2" r="9.7" fill="url(#gBlue)"/>
<circle cx="272.9" cy="352.1" r="9.8" fill="url(#gBlue)"/>
<circle cx="95.6" cy="372.7" r="9.7" fill="url(#gBlue)"/>
<circle cx="203.2" cy="356.7" r="9.8" fill="url(#gBlue)"/>
<circle cx="166.2" cy="331.1" r="9.8" fill="url(#gBlue)"/>
<circle cx="109.4" cy="354.7" r="9.7" fill="url(#gBlue)"/>
<circle cx="294.2" cy="356.2" r="9.8" fill="url(#gBlue)"/>
<circle cx="119.8" cy="381.4" r="9.8" fill="url(#gBlue)"/>
<circle cx="284.3" cy="328.2" r="9.8" fill="url(#gBlue)"/>
<circle cx="191.0" cy="326.9" r="9.8" fill="url(#gBlue)"/>
<circle cx="224.1" cy="357.2" r="9.8" fill="url(#gBlue)"/>
<circle cx="131.4" cy="353.6" r="9.8" fill="url(#gBlue)"/>
<circle cx="213.5" cy="381.4" r="9.8" fill="url(#gBlue)"/>
<circle cx="282.2" cy="373.5" r="9.8" fill="url(#gBlue)"/>
<circle cx="188.2" cy="381.6" r="9.8" fill="url(#gBlue)"/>
<circle cx="259.3" cy="325.6" r="9.8" fill="url(#gBlue)"/>
<circle cx="236.6" cy="378.3" r="9.8" fill="url(#gBlue)"/>
<circle cx="306.9" cy="379.8" r="9.9" fill="url(#gBlue)"/>
<circle cx="165.1" cy="379.3" r="9.8" fill="url(#gBlue)"/>
<circle cx="143.9" cy="376.4" r="9.8" fill="url(#gBlue)"/>
<circle cx="164.6" cy="334.0" r="10.0" fill="url(#gBlue)"/>
<circle cx="115.8" cy="331.4" r="10.0" fill="url(#gBlue)"/>
<circle cx="309.0" cy="335.6" r="10.1" fill="url(#gBlue)"/>
<circle cx="262.9" cy="333.0" r="10.1" fill="url(#gBlue)"/>
<circle cx="188.4" cy="336.3" r="10.1" fill="url(#gBlue)"/>
<circle cx="200.3" cy="359.5" r="10.1" fill="url(#gBlue)"/>
<circle cx="94.7" cy="387.1" r="10.0" fill="url(#gBlue)"/>
<circle cx="127.3" cy="360.4" r="10.1" fill="url(#gBlue)"/>
<circle cx="105.7" cy="359.2" r="10.1" fill="url(#gBlue)"/>
<circle cx="94.5" cy="330.7" r="10.1" fill="url(#gBlue)"/>
<circle cx="141.2" cy="386.9" r="10.1" fill="url(#gBlue)"/>
<circle cx="225.1" cy="358.2" r="10.1" fill="url(#gBlue)"/>
<circle cx="190.6" cy="386.3" r="10.1" fill="url(#gBlue)"/>
<circle cx="214.3" cy="331.9" r="10.2" fill="url(#gBlue)"/>
<circle cx="138.6" cy="330.1" r="10.2" fill="url(#gBlue)"/>
<circle cx="273.3" cy="361.4" r="10.2" fill="url(#gBlue)"/>
<circle cx="152.7" cy="361.3" r="10.2" fill="url(#gBlue)"/>
<circle cx="175.9" cy="356.0" r="10.2" fill="url(#gBlue)"/>
<circle cx="211.7" cy="387.8" r="10.2" fill="url(#gBlue)"/>
<circle cx="250.7" cy="361.2" r="10.3" fill="url(#gBlue)"/>
<circle cx="239.5" cy="384.5" r="10.3" fill="url(#gBlue)"/>
<circle cx="114.1" cy="383.5" r="10.2" fill="url(#gBlue)"/>
<circle cx="297.1" cy="356.0" r="10.3" fill="url(#gBlue)"/>
<circle cx="164.8" cy="388.6" r="10.3" fill="url(#gBlue)"/>
<circle cx="313.0" cy="386.9" r="10.3" fill="url(#gBlue)"/>
<circle cx="288.4" cy="388.7" r="10.3" fill="url(#gBlue)"/>
<circle cx="263.3" cy="383.6" r="10.3" fill="url(#gBlue)"/>
<circle cx="140.4" cy="340.8" r="10.4" fill="url(#gBlue)"/>
<circle cx="126.7" cy="365.8" r="10.4" fill="url(#gBlue)"/>
<circle cx="287.1" cy="336.3" r="10.5" fill="url(#gBlue)"/>
<circle cx="189.3" cy="333.8" r="10.5" fill="url(#gBlue)"/>
<circle cx="201.5" cy="366.2" r="10.5" fill="url(#gBlue)"/>
<circle cx="252.5" cy="364.8" r="10.5" fill="url(#gBlue)"/>
<circle cx="226.1" cy="364.3" r="10.5" fill="url(#gBlue)"/>
<circle cx="176.4" cy="360.4" r="10.5" fill="url(#gBlue)"/>
<circle cx="99.3" cy="365.7" r="10.5" fill="url(#gBlue)"/>
<circle cx="214.5" cy="393.9" r="10.6" fill="url(#gBlue)"/>
<circle cx="85.0" cy="395.7" r="10.5" fill="url(#gBlue)"/>
<circle cx="301.1" cy="361.1" r="10.6" fill="url(#gBlue)"/>
<circle cx="312.9" cy="392.7" r="10.6" fill="url(#gBlue)"/>
<circle cx="164.7" cy="337.5" r="10.6" fill="url(#gBlue)"/>
<circle cx="314.0" cy="334.5" r="10.6" fill="url(#gBlue)"/>
<circle cx="263.1" cy="343.0" r="10.6" fill="url(#gBlue)"/>
<circle cx="89.1" cy="336.2" r="10.6" fill="url(#gBlue)"/>
<circle cx="187.1" cy="389.0" r="10.6" fill="url(#gBlue)"/>
<circle cx="212.8" cy="337.6" r="10.6" fill="url(#gBlue)"/>
<circle cx="161.0" cy="394.4" r="10.6" fill="url(#gBlue)"/>
<circle cx="149.5" cy="370.2" r="10.6" fill="url(#gBlue)"/>
<circle cx="111.9" cy="388.2" r="10.6" fill="url(#gBlue)"/>
<circle cx="138.4" cy="394.7" r="10.6" fill="url(#gBlue)"/>
<circle cx="237.3" cy="393.1" r="10.7" fill="url(#gBlue)"/>
<circle cx="278.2" cy="364.5" r="10.7" fill="url(#gBlue)"/>
<circle cx="173.4" cy="374.5" r="10.9" fill="url(#gBlue)"/>
<circle cx="266.5" cy="341.0" r="10.9" fill="url(#gBlue)"/>
<circle cx="110.1" cy="401.3" r="10.9" fill="url(#gBlue)"/>
<circle cx="82.1" cy="342.2" r="11.0" fill="url(#gBlue)"/>
<circle cx="135.4" cy="343.8" r="11.0" fill="url(#gBlue)"/>
<circle cx="81.8" cy="400.6" r="11.0" fill="url(#gBlue)"/>
<circle cx="186.6" cy="346.3" r="11.0" fill="url(#gBlue)"/>
<circle cx="238.7" cy="347.5" r="11.0" fill="url(#gBlue)"/>
<circle cx="290.8" cy="341.8" r="11.1" fill="url(#gBlue)"/>
<circle cx="214.3" cy="344.8" r="11.0" fill="url(#gBlue)"/>
<circle cx="122.9" cy="374.2" r="11.0" fill="url(#gBlue)"/>
<circle cx="108.8" cy="343.4" r="11.0" fill="url(#gBlue)"/>
<circle cx="199.1" cy="376.8" r="11.0" fill="url(#gBlue)"/>
<circle cx="320.7" cy="341.2" r="11.1" fill="url(#gBlue)"/>
<circle cx="224.4" cy="371.2" r="11.1" fill="url(#gBlue)"/>
<circle cx="162.4" cy="342.7" r="11.1" fill="url(#gBlue)"/>
<circle cx="265.2" cy="396.2" r="11.1" fill="url(#gBlue)"/>
<circle cx="318.0" cy="397.6" r="11.1" fill="url(#gBlue)"/>
<circle cx="146.4" cy="372.8" r="11.1" fill="url(#gBlue)"/>
<circle cx="93.2" cy="370.4" r="11.1" fill="url(#gBlue)"/>
<circle cx="252.0" cy="373.9" r="11.2" fill="url(#gBlue)"/>
<circle cx="132.6" cy="401.0" r="11.1" fill="url(#gBlue)"/>
<circle cx="278.1" cy="372.9" r="11.2" fill="url(#gBlue)"/>
<circle cx="157.7" cy="397.8" r="11.2" fill="url(#gBlue)"/>
<circle cx="240.2" cy="398.6" r="11.2" fill="url(#gBlue)"/>
<circle cx="211.1" cy="401.2" r="11.2" fill="url(#gBlue)"/>
<circle cx="293.0" cy="402.2" r="11.2" fill="url(#gBlue)"/>
<circle cx="185.5" cy="398.5" r="11.2" fill="url(#gBlue)"/>
<circle cx="105.9" cy="353.4" r="11.3" fill="url(#gBlue)"/>
<circle cx="184.8" cy="353.5" r="11.4" fill="url(#gBlue)"/>
<circle cx="227.0" cy="379.7" r="11.4" fill="url(#gBlue)"/>
<circle cx="132.8" cy="349.5" r="11.4" fill="url(#gBlue)"/>
<circle cx="322.1" cy="354.0" r="11.5" fill="url(#gBlue)"/>
<circle cx="211.5" cy="347.5" r="11.4" fill="url(#gBlue)"/>
<circle cx="199.4" cy="378.5" r="11.5" fill="url(#gBlue)"/>
<circle cx="267.4" cy="347.4" r="11.5" fill="url(#gBlue)"/>
<circle cx="239.6" cy="411.0" r="11.5" fill="url(#gBlue)"/>
<circle cx="142.7" cy="381.5" r="11.5" fill="url(#gBlue)"/>
<circle cx="238.8" cy="346.2" r="11.5" fill="url(#gBlue)"/>
<circle cx="256.1" cy="381.2" r="11.5" fill="url(#gBlue)"/>
<circle cx="74.8" cy="347.4" r="11.5" fill="url(#gBlue)"/>
<circle cx="74.6" cy="407.3" r="11.5" fill="url(#gBlue)"/>
<circle cx="322.3" cy="408.5" r="11.6" fill="url(#gBlue)"/>
<circle cx="89.5" cy="377.1" r="11.5" fill="url(#gBlue)"/>
<circle cx="183.3" cy="408.7" r="11.6" fill="url(#gBlue)"/>
<circle cx="171.8" cy="384.9" r="11.6" fill="url(#gBlue)"/>
<circle cx="155.7" cy="407.5" r="11.6" fill="url(#gBlue)"/>
<circle cx="214.4" cy="413.6" r="11.6" fill="url(#gBlue)"/>
<circle cx="282.3" cy="377.1" r="11.7" fill="url(#gBlue)"/>
<circle cx="127.7" cy="407.6" r="11.7" fill="url(#gBlue)"/>
<circle cx="267.2" cy="408.3" r="11.7" fill="url(#gBlue)"/>
<circle cx="297.5" cy="409.6" r="11.8" fill="url(#gBlue)"/>
<circle cx="99.0" cy="356.3" r="11.8" fill="url(#gBlue)"/>
<circle cx="241.2" cy="360.2" r="11.9" fill="url(#gBlue)"/>
<circle cx="85.1" cy="390.3" r="11.9" fill="url(#gBlue)"/>
<circle cx="328.9" cy="359.1" r="12.0" fill="url(#gBlue)"/>
<circle cx="182.9" cy="356.6" r="11.9" fill="url(#gBlue)"/>
<circle cx="127.2" cy="356.0" r="11.9" fill="url(#gBlue)"/>
<circle cx="111.6" cy="391.4" r="12.0" fill="url(#gBlue)"/>
<circle cx="268.0" cy="351.9" r="12.0" fill="url(#gBlue)"/>
<circle cx="168.4" cy="391.4" r="12.0" fill="url(#gBlue)"/>
<circle cx="139.7" cy="382.9" r="12.0" fill="url(#gBlue)"/>
<circle cx="67.5" cy="356.6" r="12.0" fill="url(#gBlue)"/>
<circle cx="328.8" cy="418.6" r="12.1" fill="url(#gBlue)"/>
<circle cx="154.9" cy="353.4" r="12.0" fill="url(#gBlue)"/>
<circle cx="313.1" cy="385.4" r="12.1" fill="url(#gBlue)"/>
<circle cx="211.8" cy="355.6" r="12.1" fill="url(#gBlue)"/>
<circle cx="182.2" cy="417.1" r="12.1" fill="url(#gBlue)"/>
<circle cx="227.5" cy="386.3" r="12.1" fill="url(#gBlue)"/>
<circle cx="67.2" cy="420.7" r="12.0" fill="url(#gBlue)"/>
<circle cx="255.5" cy="384.5" r="12.1" fill="url(#gBlue)"/>
<circle cx="127.2" cy="416.2" r="12.1" fill="url(#gBlue)"/>
<circle cx="212.8" cy="414.1" r="12.1" fill="url(#gBlue)"/>
<circle cx="301.9" cy="418.4" r="12.2" fill="url(#gBlue)"/>
<circle cx="299.9" cy="359.5" r="12.2" fill="url(#gBlue)"/>
<circle cx="196.8" cy="393.0" r="12.1" fill="url(#gBlue)"/>
<circle cx="97.3" cy="419.2" r="12.1" fill="url(#gBlue)"/>
<circle cx="156.7" cy="422.0" r="12.1" fill="url(#gBlue)"/>
<circle cx="271.3" cy="420.3" r="12.2" fill="url(#gBlue)"/>
<circle cx="242.2" cy="423.6" r="12.2" fill="url(#gBlue)"/>
<circle cx="284.4" cy="386.6" r="12.3" fill="url(#gBlue)"/>
<circle cx="77.8" cy="398.4" r="12.4" fill="url(#gBlue)"/>
<circle cx="66.5" cy="366.9" r="12.4" fill="url(#gBlue)"/>
<circle cx="96.4" cy="364.0" r="12.4" fill="url(#gBlue)"/>
<circle cx="153.3" cy="366.4" r="12.5" fill="url(#gBlue)"/>
<circle cx="212.3" cy="361.6" r="12.5" fill="url(#gBlue)"/>
<circle cx="213.2" cy="426.5" r="12.6" fill="url(#gBlue)"/>
<circle cx="242.0" cy="366.8" r="12.6" fill="url(#gBlue)"/>
<circle cx="180.6" cy="370.0" r="12.6" fill="url(#gBlue)"/>
<circle cx="110.2" cy="395.8" r="12.6" fill="url(#gBlue)"/>
<circle cx="195.7" cy="397.8" r="12.7" fill="url(#gBlue)"/>
<circle cx="139.4" cy="393.8" r="12.7" fill="url(#gBlue)"/>
<circle cx="305.9" cy="365.6" r="12.7" fill="url(#gBlue)"/>
<circle cx="273.2" cy="362.4" r="12.7" fill="url(#gBlue)"/>
<circle cx="180.5" cy="426.4" r="12.7" fill="url(#gBlue)"/>
<circle cx="167.0" cy="394.7" r="12.7" fill="url(#gBlue)"/>
<circle cx="337.0" cy="365.4" r="12.8" fill="url(#gBlue)"/>
<circle cx="90.7" cy="425.1" r="12.7" fill="url(#gBlue)"/>
<circle cx="317.3" cy="401.0" r="12.8" fill="url(#gBlue)"/>
<circle cx="290.9" cy="403.5" r="12.8" fill="url(#gBlue)"/>
<circle cx="149.6" cy="426.0" r="12.8" fill="url(#gBlue)"/>
<circle cx="305.9" cy="426.6" r="12.8" fill="url(#gBlue)"/>
<circle cx="58.4" cy="432.8" r="12.7" fill="url(#gBlue)"/>
<circle cx="259.7" cy="399.1" r="12.8" fill="url(#gBlue)"/>
<circle cx="273.2" cy="428.5" r="12.9" fill="url(#gBlue)"/>
<circle cx="335.2" cy="432.9" r="13.0" fill="url(#gBlue)"/>
<circle cx="183.6" cy="367.1" r="13.1" fill="url(#gBlue)"/>
<circle cx="247.4" cy="374.2" r="13.3" fill="url(#gBlue)"/>
<circle cx="215.2" cy="371.0" r="13.3" fill="url(#gBlue)"/>
<circle cx="306.9" cy="378.4" r="13.3" fill="url(#gBlue)"/>
<circle cx="117.6" cy="371.9" r="13.3" fill="url(#gBlue)"/>
<circle cx="148.5" cy="378.1" r="13.3" fill="url(#gBlue)"/>
<circle cx="340.3" cy="370.2" r="13.4" fill="url(#gBlue)"/>
<circle cx="275.7" cy="369.6" r="13.4" fill="url(#gBlue)"/>
<defs><linearGradient id="gArrB" gradientUnits="userSpaceOnUse" x1="0" y1="340" x2="0" y2="427"><stop offset="0" stop-color="#f6a45f"/><stop offset="0.45" stop-color="#f4a15c" stop-opacity="0.97"/><stop offset="0.72" stop-color="#f2a468" stop-opacity="0.75"/><stop offset="1" stop-color="#f3b486" stop-opacity="0.45"/></linearGradient></defs>
<path d="M84.3 344.1L94.9 353.8L87.6 354.6C86.9 356.1 85.8 359.6 83.5 363.5C81.2 367.4 75.5 373.5 73.8 378.1C72.0 382.7 72.2 387.7 73.0 391.1C73.8 394.5 75.0 396.2 78.7 398.4C82.4 400.6 89.0 402.1 94.9 404.1C100.8 406.1 106.5 407.5 114.3 410.6C122.1 413.7 137.3 420.7 141.9 422.7L70.6 422.7C67.9 420.7 58.1 414.8 54.3 410.6C50.5 406.4 48.3 401.4 47.8 397.6C47.3 393.8 48.7 391.7 51.1 387.9C53.5 384.1 57.9 380.4 62.4 374.9C66.9 369.3 75.3 358.0 77.9 354.6L73 353.8Z" fill="url(#gArrB)" stroke="#d9853f" stroke-opacity="0.35" stroke-width="0.6"/>
<path d="M162 338.2L174.3 354.9L168.7 354.9C170.2 357.4 174.0 365.7 178.0 369.7C182.0 373.7 187.2 376.5 192.8 379.0C198.4 381.5 205.7 382.0 211.3 384.5C216.9 387.0 222.5 389.8 226.2 393.8C229.9 397.8 231.8 403.3 233.6 408.7C235.4 414.1 236.7 423.4 237.3 426.4L170.6 426.4C173.1 425.0 180.5 420.2 185.4 417.9C190.3 415.6 196.6 415.5 200.2 412.4C203.8 409.2 208.2 402.4 207.0 399.0C205.8 395.6 198.2 394.7 192.8 392.0C187.4 389.3 179.2 386.4 174.3 382.7C169.4 379.0 165.9 374.3 163.1 369.7C160.3 365.1 158.5 357.4 157.6 354.9L150.2 353Z" fill="url(#gArrB)" stroke="#d9853f" stroke-opacity="0.35" stroke-width="0.6"/>
<path d="M313.3 338.4L324.3 348.9L319.8 349.7C321.1 351.2 324.7 355.0 327.9 358.7C331.1 362.4 336.1 367.6 339.2 371.6C342.3 375.7 344.9 379.2 346.5 383.0C348.1 386.8 348.7 390.5 348.6 394.3C348.5 398.1 347.8 401.6 345.7 405.7C343.6 409.8 339.4 415.2 336.0 418.7C332.6 422.1 327.2 425.1 325.4 426.4L256.5 426.4C260.6 424.3 273.0 418.1 280.8 413.8C288.6 409.5 297.3 404.6 303.5 400.8C309.7 397.0 314.5 394.3 318.1 391.1C321.8 387.9 324.3 384.6 325.4 381.4C326.5 378.1 325.8 375.1 324.6 371.6C323.4 368.1 320.7 364.0 318.1 360.3C315.5 356.6 310.7 351.5 309.2 349.7L303 348.9Z" fill="url(#gArrB)" stroke="#d9853f" stroke-opacity="0.35" stroke-width="0.6"/>
<circle cx="84.3" cy="414.6" r="8.3" fill="url(#gE)"/><text x="82.7" y="418.90000000000003" font-size="13.5" fill="#fff" text-anchor="middle">e<tspan font-size="8" dy="-5.5">−</tspan></text>
<circle cx="209.9" cy="415" r="8.3" fill="url(#gE)"/><text x="208.3" y="419.3" font-size="13.5" fill="#fff" text-anchor="middle">e<tspan font-size="8" dy="-5.5">−</tspan></text>
<circle cx="306" cy="414.8" r="8.3" fill="url(#gE)"/><text x="304.4" y="419.1" font-size="13.5" fill="#fff" text-anchor="middle">e<tspan font-size="8" dy="-5.5">−</tspan></text>
<text x="-0.5" y="319.5" font-size="26.5" font-weight="bold" fill="#000" stroke="#000" stroke-width="0.95">b</text>
</g>
<g id="panel_c">
<defs>
<linearGradient id="gTopC" x1="0" y1="0" x2="0" y2="1"><stop offset="0" stop-color="#fbd9dc"/><stop offset="0.45" stop-color="#fff4f5"/><stop offset="1" stop-color="#ffffff"/></linearGradient>
<linearGradient id="gGapC" x1="0" y1="0" x2="0" y2="1"><stop offset="0" stop-color="#2e0b10"/><stop offset="0.84" stop-color="#3a1016"/><stop offset="0.93" stop-color="#6a2a33"/><stop offset="1" stop-color="#c7727b"/></linearGradient>
<linearGradient id="gFrontC" x1="0" y1="0" x2="0" y2="1"><stop offset="0" stop-color="#fcb4b9"/><stop offset="1" stop-color="#f79ca4"/></linearGradient>
<linearGradient id="gArrC" gradientUnits="userSpaceOnUse" x1="0" y1="309" x2="0" y2="420"><stop offset="0" stop-color="#fee3b0"/><stop offset="0.25" stop-color="#fccf8e"/><stop offset="0.5" stop-color="#f9b466" stop-opacity="0.97"/><stop offset="0.68" stop-color="#f8b56d" stop-opacity="0.88"/><stop offset="0.85" stop-color="#fad3a2" stop-opacity="0.7"/><stop offset="1" stop-color="#fce6c8" stop-opacity="0.6"/></linearGradient>
</defs>
<circle cx="479.0" cy="482.9" r="3.6" fill="url(#gPink)"/>
<circle cx="538.4" cy="483.2" r="3.6" fill="url(#gPink)"/>
<circle cx="597.9" cy="483.5" r="3.6" fill="url(#gPink)"/>
<circle cx="657.6" cy="483.8" r="3.6" fill="url(#gPink)"/>
<polygon points="444.5,491.1 476.0,520.3 471.1,500.4" fill="#2b5a45" stroke="#26363f" stroke-width="0.45" stroke-linejoin="round"/>
<polygon points="506.0,491.4 476.0,520.3 471.1,500.4" fill="#1f4f35" stroke="#26363f" stroke-width="0.45" stroke-linejoin="round"/>
<polygon points="506.0,491.4 537.1,520.7 535.2,500.7" fill="#2b5a45" stroke="#26363f" stroke-width="0.45" stroke-linejoin="round"/>
<polygon points="567.7,491.8 537.1,520.7 535.2,500.7" fill="#1f4f35" stroke="#26363f" stroke-width="0.45" stroke-linejoin="round"/>
<circle cx="477.6" cy="425.3" r="3.7" fill="url(#gPink)"/>
<polygon points="567.7,491.8 598.3,521.1 599.5,501.1" fill="#2b5a45" stroke="#26363f" stroke-width="0.45" stroke-linejoin="round"/>
<polygon points="629.7,492.1 598.3,521.1 599.5,501.1" fill="#1f4f35" stroke="#26363f" stroke-width="0.45" stroke-linejoin="round"/>
<circle cx="538.0" cy="425.5" r="3.7" fill="url(#gPink)"/>
<polygon points="629.7,492.1 659.8,521.5 664.1,501.5" fill="#2b5a45" stroke="#26363f" stroke-width="0.45" stroke-linejoin="round"/>
<polygon points="691.8,492.5 659.8,521.5 664.1,501.5" fill="#1f4f35" stroke="#26363f" stroke-width="0.45" stroke-linejoin="round"/>
<circle cx="598.5" cy="425.8" r="3.7" fill="url(#gPink)"/>
<polygon points="444.5,491.1 474.5,461.7 471.1,500.4" fill="url(#cUL1)" stroke="#26363f" stroke-width="0.45" stroke-linejoin="round"/>
<polygon points="506.0,491.4 474.5,461.7 471.1,500.4" fill="url(#cUR1)" stroke="#26363f" stroke-width="0.45" stroke-linejoin="round"/>
<circle cx="659.3" cy="426.0" r="3.7" fill="url(#gPink)"/>
<polygon points="506.0,491.4 536.6,462.0 535.2,500.7" fill="url(#cUL1)" stroke="#26363f" stroke-width="0.45" stroke-linejoin="round"/>
<polygon points="567.7,491.8 536.6,462.0 535.2,500.7" fill="url(#cUR1)" stroke="#26363f" stroke-width="0.45" stroke-linejoin="round"/>
<polygon points="567.7,491.8 599.0,462.3 599.5,501.1" fill="url(#cUL1)" stroke="#26363f" stroke-width="0.45" stroke-linejoin="round"/>
<polygon points="629.7,492.1 599.0,462.3 599.5,501.1" fill="url(#cUR1)" stroke="#26363f" stroke-width="0.45" stroke-linejoin="round"/>
<polygon points="629.7,492.1 661.6,462.6 664.1,501.5" fill="url(#cUL1)" stroke="#26363f" stroke-width="0.45" stroke-linejoin="round"/>
<polygon points="691.8,492.5 661.6,462.6 664.1,501.5" fill="url(#cUR1)" stroke="#26363f" stroke-width="0.45" stroke-linejoin="round"/>
<circle cx="476.0" cy="520.3" r="3.7" fill="url(#gPink)"/>
<circle cx="537.1" cy="520.7" r="3.7" fill="url(#gPink)"/>
<circle cx="598.3" cy="521.1" r="3.7" fill="url(#gPink)"/>
<polygon points="442.4,431.5 474.5,461.7 469.4,438.4" fill="#2b5a45" stroke="#26363f" stroke-width="0.45" stroke-linejoin="round"/>
<polygon points="505.0,431.7 474.5,461.7 469.4,438.4" fill="#1f4f35" stroke="#26363f" stroke-width="0.45" stroke-linejoin="round"/>
<circle cx="659.8" cy="521.5" r="3.8" fill="url(#gPink)"/>
<polygon points="505.0,431.7 536.6,462.0 534.7,438.7" fill="#2b5a45" stroke="#26363f" stroke-width="0.45" stroke-linejoin="round"/>
<polygon points="567.9,432.0 536.6,462.0 534.7,438.7" fill="#1f4f35" stroke="#26363f" stroke-width="0.45" stroke-linejoin="round"/>
<polygon points="567.9,432.0 599.0,462.3 600.3,438.9" fill="#2b5a45" stroke="#26363f" stroke-width="0.45" stroke-linejoin="round"/>
<circle cx="444.5" cy="491.1" r="3.7" fill="url(#gPink)"/>
<polygon points="631.0,432.2 599.0,462.3 600.3,438.9" fill="#1f4f35" stroke="#26363f" stroke-width="0.45" stroke-linejoin="round"/>
<polygon points="631.0,432.2 661.6,462.6 666.1,439.2" fill="#2b5a45" stroke="#26363f" stroke-width="0.45" stroke-linejoin="round"/>
<circle cx="506.0" cy="491.4" r="3.8" fill="url(#gPink)"/>
<polygon points="694.3,432.5 661.6,462.6 666.1,439.2" fill="#1f4f35" stroke="#26363f" stroke-width="0.45" stroke-linejoin="round"/>
<polygon points="442.4,431.5 472.9,400.9 469.4,438.4" fill="url(#cUL1)" stroke="#26363f" stroke-width="0.45" stroke-linejoin="round"/>
<polygon points="505.0,431.7 472.9,400.9 469.4,438.4" fill="url(#cUR1)" stroke="#26363f" stroke-width="0.45" stroke-linejoin="round"/>
<circle cx="567.7" cy="491.8" r="3.8" fill="url(#gPink)"/>
<polygon points="505.0,431.7 536.2,401.1 534.7,438.7" fill="url(#cUL1)" stroke="#26363f" stroke-width="0.45" stroke-linejoin="round"/>
<polygon points="567.9,432.0 536.2,401.1 534.7,438.7" fill="url(#cUR1)" stroke="#26363f" stroke-width="0.45" stroke-linejoin="round"/>
<circle cx="629.7" cy="492.1" r="3.8" fill="url(#gPink)"/>
<polygon points="567.9,432.0 599.8,401.3 600.3,438.9" fill="url(#cUL1)" stroke="#26363f" stroke-width="0.45" stroke-linejoin="round"/>
<polygon points="631.0,432.2 599.8,401.3 600.3,438.9" fill="url(#cUR1)" stroke="#26363f" stroke-width="0.45" stroke-linejoin="round"/>
<circle cx="691.8" cy="492.5" r="3.8" fill="url(#gPink)"/>
<polygon points="631.0,432.2 663.6,401.5 666.1,439.2" fill="url(#cUL1)" stroke="#26363f" stroke-width="0.45" stroke-linejoin="round"/>
<polygon points="694.3,432.5 663.6,401.5 666.1,439.2" fill="url(#cUR1)" stroke="#26363f" stroke-width="0.45" stroke-linejoin="round"/>
<circle cx="474.5" cy="461.7" r="3.8" fill="url(#gPink)"/>
<circle cx="536.6" cy="462.0" r="3.8" fill="url(#gPink)"/>
<circle cx="599.0" cy="462.3" r="3.8" fill="url(#gPink)"/>
<circle cx="661.6" cy="462.6" r="3.8" fill="url(#gPink)"/>
<circle cx="502.6" cy="469.8" r="12.3" fill="url(#gPurple)"/>
<circle cx="442.4" cy="431.5" r="3.8" fill="url(#gPink)"/>
<circle cx="567.4" cy="470.2" r="12.3" fill="url(#gPurple)"/>
<circle cx="505.0" cy="431.7" r="3.8" fill="url(#gPink)"/>
<circle cx="632.5" cy="470.5" r="12.4" fill="url(#gPurple)"/>
<circle cx="567.9" cy="432.0" r="3.8" fill="url(#gPink)"/>
<circle cx="631.0" cy="432.2" r="3.9" fill="url(#gPink)"/>
<circle cx="694.3" cy="432.5" r="3.9" fill="url(#gPink)"/>
<circle cx="472.9" cy="400.9" r="3.9" fill="url(#gPink)"/>
<circle cx="536.2" cy="401.1" r="3.9" fill="url(#gPink)"/>
<circle cx="599.8" cy="401.3" r="3.9" fill="url(#gPink)"/>
<circle cx="663.6" cy="401.5" r="3.9" fill="url(#gPink)"/>
<circle cx="471.1" cy="500.4" r="3.9" fill="url(#gPink)"/>
<circle cx="535.2" cy="500.7" r="3.9" fill="url(#gPink)"/>
<circle cx="599.5" cy="501.1" r="3.9" fill="url(#gPink)"/>
<circle cx="664.1" cy="501.5" r="3.9" fill="url(#gPink)"/>
<polygon points="433.4,510.0 467.6,541.5 461.8,520.9" fill="#2b5a45" stroke="#26363f" stroke-width="0.45" stroke-linejoin="round"/>
<polygon points="500.0,510.4 467.6,541.5 461.8,520.9" fill="#1f4f35" stroke="#26363f" stroke-width="0.45" stroke-linejoin="round"/>
<polygon points="500.0,510.4 533.7,542.0 531.5,521.4" fill="#2b5a45" stroke="#26363f" stroke-width="0.45" stroke-linejoin="round"/>
<polygon points="566.9,510.8 533.7,542.0 531.5,521.4" fill="#1f4f35" stroke="#26363f" stroke-width="0.45" stroke-linejoin="round"/>
<circle cx="469.4" cy="438.4" r="4.0" fill="url(#gPink)"/>
<polygon points="566.9,510.8 600.1,542.4 601.5,521.8" fill="#2b5a45" stroke="#26363f" stroke-width="0.45" stroke-linejoin="round"/>
<polygon points="634.1,511.3 600.1,542.4 601.5,521.8" fill="#1f4f35" stroke="#26363f" stroke-width="0.45" stroke-linejoin="round"/>
<circle cx="534.7" cy="438.7" r="4.0" fill="url(#gPink)"/>
<polygon points="634.1,511.3 666.7,542.9 671.8,522.3" fill="#2b5a45" stroke="#26363f" stroke-width="0.45" stroke-linejoin="round"/>
<polygon points="701.5,511.7 666.7,542.9 671.8,522.3" fill="#1f4f35" stroke="#26363f" stroke-width="0.45" stroke-linejoin="round"/>
<circle cx="600.3" cy="438.9" r="4.0" fill="url(#gPink)"/>
<polygon points="433.4,510.0 465.8,478.3 461.8,520.9" fill="url(#cUL1)" stroke="#26363f" stroke-width="0.45" stroke-linejoin="round"/>
<polygon points="500.0,510.4 465.8,478.3 461.8,520.9" fill="url(#cUR1)" stroke="#26363f" stroke-width="0.45" stroke-linejoin="round"/>
<circle cx="666.1" cy="439.2" r="4.0" fill="url(#gPink)"/>
<polygon points="500.0,510.4 533.2,478.7 531.5,521.4" fill="url(#cUL1)" stroke="#26363f" stroke-width="0.45" stroke-linejoin="round"/>
<polygon points="566.9,510.8 533.2,478.7 531.5,521.4" fill="url(#cUR1)" stroke="#26363f" stroke-width="0.45" stroke-linejoin="round"/>
<polygon points="566.9,510.8 600.9,479.0 601.5,521.8" fill="url(#cUL1)" stroke="#26363f" stroke-width="0.45" stroke-linejoin="round"/>
<polygon points="634.1,511.3 600.9,479.0 601.5,521.8" fill="url(#cUR1)" stroke="#26363f" stroke-width="0.45" stroke-linejoin="round"/>
<polygon points="634.1,511.3 668.9,479.4 671.8,522.3" fill="url(#cUL1)" stroke="#26363f" stroke-width="0.45" stroke-linejoin="round"/>
<polygon points="701.5,511.7 668.9,479.4 671.8,522.3" fill="url(#cUR1)" stroke="#26363f" stroke-width="0.45" stroke-linejoin="round"/>
<circle cx="467.6" cy="541.5" r="4.0" fill="url(#gPink)"/>
<circle cx="533.7" cy="542.0" r="4.0" fill="url(#gPink)"/>
<circle cx="600.1" cy="542.4" r="4.1" fill="url(#gPink)"/>
<polygon points="430.8,445.6 465.8,478.3 459.8,453.9" fill="#2b5a45" stroke="#26363f" stroke-width="0.45" stroke-linejoin="round"/>
<polygon points="498.8,445.9 465.8,478.3 459.8,453.9" fill="#1f4f35" stroke="#26363f" stroke-width="0.45" stroke-linejoin="round"/>
<circle cx="666.7" cy="542.9" r="4.1" fill="url(#gPink)"/>
<polygon points="498.8,445.9 533.2,478.7 530.9,454.2" fill="#2b5a45" stroke="#26363f" stroke-width="0.45" stroke-linejoin="round"/>
<polygon points="567.1,446.2 533.2,478.7 530.9,454.2" fill="#1f4f35" stroke="#26363f" stroke-width="0.45" stroke-linejoin="round"/>
<polygon points="567.1,446.2 600.9,479.0 602.4,454.5" fill="#2b5a45" stroke="#26363f" stroke-width="0.45" stroke-linejoin="round"/>
<circle cx="433.4" cy="510.0" r="4.1" fill="url(#gPink)"/>
<polygon points="635.6,446.5 600.9,479.0 602.4,454.5" fill="#1f4f35" stroke="#26363f" stroke-width="0.45" stroke-linejoin="round"/>
<polygon points="635.6,446.5 668.9,479.4 674.2,454.8" fill="#2b5a45" stroke="#26363f" stroke-width="0.45" stroke-linejoin="round"/>
<circle cx="500.0" cy="510.4" r="4.1" fill="url(#gPink)"/>
<polygon points="704.4,446.8 668.9,479.4 674.2,454.8" fill="#1f4f35" stroke="#26363f" stroke-width="0.45" stroke-linejoin="round"/>
<polygon points="430.8,445.6 463.8,412.6 459.8,453.9" fill="url(#cUL1)" stroke="#26363f" stroke-width="0.45" stroke-linejoin="round"/>
<polygon points="498.8,445.9 463.8,412.6 459.8,453.9" fill="url(#cUR1)" stroke="#26363f" stroke-width="0.45" stroke-linejoin="round"/>
<circle cx="566.9" cy="510.8" r="4.1" fill="url(#gPink)"/>
<polygon points="498.8,445.9 532.7,412.8 530.9,454.2" fill="url(#cUL1)" stroke="#26363f" stroke-width="0.45" stroke-linejoin="round"/>
<polygon points="567.1,446.2 532.7,412.8 530.9,454.2" fill="url(#cUR1)" stroke="#26363f" stroke-width="0.45" stroke-linejoin="round"/>
<circle cx="634.1" cy="511.3" r="4.1" fill="url(#gPink)"/>
<polygon points="567.1,446.2 601.7,413.1 602.4,454.5" fill="url(#cUL1)" stroke="#26363f" stroke-width="0.45" stroke-linejoin="round"/>
<polygon points="635.6,446.5 601.7,413.1 602.4,454.5" fill="url(#cUR1)" stroke="#26363f" stroke-width="0.45" stroke-linejoin="round"/>
<circle cx="701.5" cy="511.7" r="4.1" fill="url(#gPink)"/>
<polygon points="635.6,446.5 671.1,413.3 674.2,454.8" fill="url(#cUL1)" stroke="#26363f" stroke-width="0.45" stroke-linejoin="round"/>
<polygon points="704.4,446.8 671.1,413.3 674.2,454.8" fill="url(#cUR1)" stroke="#26363f" stroke-width="0.45" stroke-linejoin="round"/>
<circle cx="465.8" cy="478.3" r="4.1" fill="url(#gPink)"/>
<circle cx="533.2" cy="478.7" r="4.1" fill="url(#gPink)"/>
<circle cx="600.9" cy="479.0" r="4.1" fill="url(#gPink)"/>
<circle cx="668.9" cy="479.4" r="4.2" fill="url(#gPink)"/>
<circle cx="496.0" cy="487.9" r="13.4" fill="url(#gPurple)"/>
<circle cx="430.8" cy="445.6" r="4.1" fill="url(#gPink)"/>
<circle cx="566.6" cy="488.3" r="13.4" fill="url(#gPurple)"/>
<circle cx="498.8" cy="445.9" r="4.2" fill="url(#gPink)"/>
<circle cx="637.4" cy="488.7" r="13.5" fill="url(#gPurple)"/>
<circle cx="567.1" cy="446.2" r="4.2" fill="url(#gPink)"/>
<circle cx="635.6" cy="446.5" r="4.2" fill="url(#gPink)"/>
<circle cx="704.4" cy="446.8" r="4.2" fill="url(#gPink)"/>
<circle cx="463.8" cy="412.6" r="4.2" fill="url(#gPink)"/>
<circle cx="532.7" cy="412.8" r="4.2" fill="url(#gPink)"/>
<circle cx="601.7" cy="413.1" r="4.2" fill="url(#gPink)"/>
<circle cx="671.1" cy="413.3" r="4.2" fill="url(#gPink)"/>
<circle cx="461.8" cy="520.9" r="4.2" fill="url(#gPink)"/>
<circle cx="531.5" cy="521.4" r="4.3" fill="url(#gPink)"/>
<circle cx="601.5" cy="521.8" r="4.3" fill="url(#gPink)"/>
<circle cx="671.8" cy="522.3" r="4.3" fill="url(#gPink)"/>
<polygon points="420.2,532.4 457.7,566.5 450.8,545.5" fill="url(#fDLb)" stroke="#26363f" stroke-width="0.45" stroke-linejoin="round"/>
<polygon points="493.0,532.9 457.7,566.5 450.8,545.5" fill="url(#fDRb)" stroke="#26363f" stroke-width="0.45" stroke-linejoin="round"/>
<polygon points="493.0,532.9 529.8,567.1 527.2,546.0" fill="url(#fDLb)" stroke="#26363f" stroke-width="0.45" stroke-linejoin="round"/>
<polygon points="566.0,533.4 529.8,567.1 527.2,546.0" fill="url(#fDRb)" stroke="#26363f" stroke-width="0.45" stroke-linejoin="round"/>
<circle cx="459.8" cy="453.9" r="4.3" fill="url(#gPink)"/>
<polygon points="566.0,533.4 602.2,567.6 603.9,546.6" fill="url(#fDLb)" stroke="#26363f" stroke-width="0.45" stroke-linejoin="round"/>
<polygon points="639.4,533.9 602.2,567.6 603.9,546.6" fill="url(#fDRb)" stroke="#26363f" stroke-width="0.45" stroke-linejoin="round"/>
<circle cx="530.9" cy="454.2" r="4.4" fill="url(#gPink)"/>
<polygon points="639.4,533.9 674.9,568.2 681.0,547.1" fill="url(#fDLb)" stroke="#26363f" stroke-width="0.45" stroke-linejoin="round"/>
<polygon points="713.0,534.4 674.9,568.2 681.0,547.1" fill="url(#fDRb)" stroke="#26363f" stroke-width="0.45" stroke-linejoin="round"/>
<circle cx="602.4" cy="454.5" r="4.4" fill="url(#gPink)"/>
<polygon points="420.2,532.4 455.4,498.0 450.8,545.5" fill="url(#fUL)" stroke="#26363f" stroke-width="0.45" stroke-linejoin="round"/>
<polygon points="493.0,532.9 455.4,498.0 450.8,545.5" fill="url(#fUR)" stroke="#26363f" stroke-width="0.45" stroke-linejoin="round"/>
<circle cx="674.2" cy="454.8" r="4.4" fill="url(#gPink)"/>
<polygon points="493.0,532.9 529.1,498.5 527.2,546.0" fill="url(#fUL)" stroke="#26363f" stroke-width="0.45" stroke-linejoin="round"/>
<polygon points="566.0,533.4 529.1,498.5 527.2,546.0" fill="url(#fUR)" stroke="#26363f" stroke-width="0.45" stroke-linejoin="round"/>
<polygon points="566.0,533.4 603.1,498.9 603.9,546.6" fill="url(#fUL)" stroke="#26363f" stroke-width="0.45" stroke-linejoin="round"/>
<polygon points="639.4,533.9 603.1,498.9 603.9,546.6" fill="url(#fUR)" stroke="#26363f" stroke-width="0.45" stroke-linejoin="round"/>
<polygon points="639.4,533.9 677.4,499.3 681.0,547.1" fill="url(#fUL)" stroke="#26363f" stroke-width="0.45" stroke-linejoin="round"/>
<polygon points="713.0,534.4 677.4,499.3 681.0,547.1" fill="url(#fUR)" stroke="#26363f" stroke-width="0.45" stroke-linejoin="round"/>
<circle cx="457.7" cy="566.5" r="4.4" fill="url(#gPink)"/>
<circle cx="529.8" cy="567.1" r="4.4" fill="url(#gPink)"/>
<circle cx="602.2" cy="567.6" r="4.4" fill="url(#gPink)"/>
<polygon points="417.1,462.5 455.4,498.0 448.2,472.4" fill="url(#fDL)" stroke="#26363f" stroke-width="0.45" stroke-linejoin="round"/>
<polygon points="491.5,462.9 455.4,498.0 448.2,472.4" fill="url(#fDR)" stroke="#26363f" stroke-width="0.45" stroke-linejoin="round"/>
<circle cx="674.9" cy="568.2" r="4.4" fill="url(#gPink)"/>
<polygon points="491.5,462.9 529.1,498.5 526.4,472.8" fill="url(#fDL)" stroke="#26363f" stroke-width="0.45" stroke-linejoin="round"/>
<polygon points="566.2,463.2 529.1,498.5 526.4,472.8" fill="url(#fDR)" stroke="#26363f" stroke-width="0.45" stroke-linejoin="round"/>
<polygon points="566.2,463.2 603.1,498.9 604.9,473.2" fill="url(#fDL)" stroke="#26363f" stroke-width="0.45" stroke-linejoin="round"/>
<circle cx="420.2" cy="532.4" r="4.4" fill="url(#gPink)"/>
<polygon points="641.1,463.6 603.1,498.9 604.9,473.2" fill="url(#fDR)" stroke="#26363f" stroke-width="0.45" stroke-linejoin="round"/>
<polygon points="641.1,463.6 677.4,499.3 683.8,473.6" fill="url(#fDL)" stroke="#26363f" stroke-width="0.45" stroke-linejoin="round"/>
<circle cx="493.0" cy="532.9" r="4.4" fill="url(#gPink)"/>
<polygon points="716.4,463.9 677.4,499.3 683.8,473.6" fill="url(#fDR)" stroke="#26363f" stroke-width="0.45" stroke-linejoin="round"/>
<polygon points="417.1,462.5 453.1,426.5 448.2,472.4" fill="url(#fUL)" stroke="#26363f" stroke-width="0.45" stroke-linejoin="round"/>
<polygon points="491.5,462.9 453.1,426.5 448.2,472.4" fill="url(#fUR)" stroke="#26363f" stroke-width="0.45" stroke-linejoin="round"/>
<circle cx="566.0" cy="533.4" r="4.5" fill="url(#gPink)"/>
<polygon points="491.5,462.9 528.4,426.8 526.4,472.8" fill="url(#fUL)" stroke="#26363f" stroke-width="0.45" stroke-linejoin="round"/>
<polygon points="566.2,463.2 528.4,426.8 526.4,472.8" fill="url(#fUR)" stroke="#26363f" stroke-width="0.45" stroke-linejoin="round"/>
<circle cx="639.4" cy="533.9" r="4.5" fill="url(#gPink)"/>
<polygon points="566.2,463.2 604.1,427.1 604.9,473.2" fill="url(#fUL)" stroke="#26363f" stroke-width="0.45" stroke-linejoin="round"/>
<polygon points="641.1,463.6 604.1,427.1 604.9,473.2" fill="url(#fUR)" stroke="#26363f" stroke-width="0.45" stroke-linejoin="round"/>
<circle cx="713.0" cy="534.4" r="4.5" fill="url(#gPink)"/>
<polygon points="641.1,463.6 680.1,427.4 683.8,473.6" fill="url(#fUL)" stroke="#26363f" stroke-width="0.45" stroke-linejoin="round"/>
<polygon points="716.4,463.9 680.1,427.4 683.8,473.6" fill="url(#fUR)" stroke="#26363f" stroke-width="0.45" stroke-linejoin="round"/>
<circle cx="455.4" cy="498.0" r="4.5" fill="url(#gPink)"/>
<circle cx="529.1" cy="498.5" r="4.5" fill="url(#gPink)"/>
<circle cx="603.1" cy="498.9" r="4.5" fill="url(#gPink)"/>
<circle cx="677.4" cy="499.3" r="4.5" fill="url(#gPink)"/>
<circle cx="417.1" cy="462.5" r="4.5" fill="url(#gPink)"/>
<circle cx="491.5" cy="462.9" r="4.5" fill="url(#gPink)"/>
<circle cx="566.2" cy="463.2" r="4.6" fill="url(#gPink)"/>
<circle cx="641.1" cy="463.6" r="4.6" fill="url(#gPink)"/>
<circle cx="716.4" cy="463.9" r="4.6" fill="url(#gPink)"/>
<circle cx="453.1" cy="426.5" r="4.6" fill="url(#gPink)"/>
<circle cx="528.4" cy="426.8" r="4.6" fill="url(#gPink)"/>
<circle cx="604.1" cy="427.1" r="4.6" fill="url(#gPink)"/>
<circle cx="680.1" cy="427.4" r="4.6" fill="url(#gPink)"/>
<circle cx="450.8" cy="545.5" r="4.7" fill="url(#gPink)"/>
<circle cx="527.2" cy="546.0" r="4.7" fill="url(#gPink)"/>
<circle cx="603.9" cy="546.6" r="4.7" fill="url(#gPink)"/>
<circle cx="681.0" cy="547.1" r="4.7" fill="url(#gPink)"/>
<circle cx="448.2" cy="472.4" r="4.8" fill="url(#gPink)"/>
<circle cx="526.4" cy="472.8" r="4.8" fill="url(#gPink)"/>
<circle cx="604.9" cy="473.2" r="4.8" fill="url(#gPink)"/>
<circle cx="683.8" cy="473.6" r="4.8" fill="url(#gPink)"/>
<polygon points="414.2,387.8 478.5,387.8 502.1,358.7 452.9,358.7" fill="url(#gGapC)"/>
<polygon points="478.5,387.8 478.5,395.3 502.1,364.4 502.1,358.7" fill="#ee8a94"/>
<rect x="414.2" y="387.8" width="64.3" height="7.5" fill="url(#gFrontC)"/>
<polygon points="413.4,376.3 478.2,376.3 501.9,349.9 452.3,349.9" fill="url(#gGapC)"/>
<polygon points="478.2,376.3 478.2,383.6 501.9,355.5 501.9,349.9" fill="#ee8a94"/>
<rect x="413.4" y="376.3" width="64.8" height="7.3" fill="url(#gFrontC)"/>
<polygon points="412.6,363.8 477.8,363.8 501.6,340.3 451.7,340.3" fill="url(#gGapC)"/>
<polygon points="477.8,363.8 477.8,371.3 501.6,346.1 501.6,340.3" fill="#ee8a94"/>
<rect x="412.6" y="363.8" width="65.2" height="7.5" fill="url(#gFrontC)"/>
<polygon points="411.8,354.4 477.5,354.4 501.4,333.2 451.1,333.2" fill="url(#gTopC)"/>
<path d="M435.2 341.7L491.7 341.7" stroke="#f7c3c8" stroke-width="0.6" fill="none"/>
<polygon points="477.5,354.4 477.5,360.5 501.4,337.8 501.4,333.2" fill="#ee8a94"/>
<rect x="411.8" y="354.4" width="65.7" height="6.1" fill="url(#gFrontC)"/>
<polygon points="658.4,388.8 723.2,388.8 689.3,359.5 639.7,359.5" fill="url(#gGapC)"/>
<polygon points="658.4,388.8 658.4,396.6 639.7,365.4 639.7,359.5" fill="#ee8a94"/>
<rect x="658.4" y="388.8" width="64.8" height="7.8" fill="url(#gFrontC)"/>
<polygon points="658.6,377.3 723.7,377.3 689.7,350.7 639.9,350.7" fill="url(#gGapC)"/>
<polygon points="658.6,377.3 658.6,385.2 639.9,356.7 639.9,350.7" fill="#ee8a94"/>
<rect x="658.6" y="377.3" width="65.1" height="7.9" fill="url(#gFrontC)"/>
<polygon points="658.9,365.9 724.3,365.9 690.1,342.0 640.1,342.0" fill="url(#gGapC)"/>
<polygon points="658.9,365.9 658.9,372.6 640.1,347.1 640.1,342.0" fill="#ee8a94"/>
<rect x="658.9" y="365.9" width="65.4" height="6.7" fill="url(#gFrontC)"/>
<polygon points="659.1,356.0 724.8,356.0 690.5,334.4 640.3,334.4" fill="url(#gTopC)"/>
<path d="M647.9 343.1L704.4 343.1" stroke="#f7c3c8" stroke-width="0.6" fill="none"/>
<polygon points="659.1,356.0 659.1,361.9 640.3,338.9 640.3,334.4" fill="#ee8a94"/>
<rect x="659.1" y="356.0" width="65.7" height="5.9" fill="url(#gFrontC)"/>
<polygon points="495.5,388.3 559.6,388.3 564.2,359.1 515.1,359.1" fill="url(#gGapC)"/>
<polygon points="559.6,388.3 559.6,395.6 564.2,364.7 564.2,359.1" fill="#ee8a94"/>
<rect x="495.5" y="388.3" width="64.1" height="7.3" fill="url(#gFrontC)"/>
<polygon points="495.3,376.3 559.8,376.3 564.3,349.9 515.0,349.9" fill="url(#gGapC)"/>
<polygon points="559.8,376.3 559.8,383.6 564.3,355.5 564.3,349.9" fill="#ee8a94"/>
<rect x="495.3" y="376.3" width="64.5" height="7.3" fill="url(#gFrontC)"/>
<polygon points="495.1,364.3 559.9,364.3 564.4,340.7 514.8,340.7" fill="url(#gGapC)"/>
<polygon points="559.9,364.3 559.9,371.6 564.4,346.3 564.4,340.7" fill="#ee8a94"/>
<rect x="495.1" y="364.3" width="64.8" height="7.3" fill="url(#gFrontC)"/>
<polygon points="494.9,354.4 560.1,354.4 564.5,333.2 514.7,333.2" fill="url(#gTopC)"/>
<path d="M506.7 341.7L562.7 341.7" stroke="#f7c3c8" stroke-width="0.6" fill="none"/>
<polygon points="560.1,354.4 560.1,361.2 564.5,338.4 564.5,333.2" fill="#ee8a94"/>
<rect x="494.9" y="354.4" width="65.2" height="6.8" fill="url(#gFrontC)"/>
<polygon points="579.2,389.3 642.6,389.3 627.7,359.9 579.2,359.9" fill="url(#gGapC)"/>
<polygon points="579.2,389.3 579.2,396.6 579.2,365.4 579.2,359.9" fill="#ee8a94"/>
<rect x="579.2" y="389.3" width="63.4" height="7.3" fill="url(#gFrontC)"/>
<polygon points="579.1,377.3 642.7,377.3 627.7,350.7 579.1,350.7" fill="url(#gGapC)"/>
<polygon points="579.1,377.3 579.1,384.6 579.1,356.3 579.1,350.7" fill="#ee8a94"/>
<rect x="579.1" y="377.3" width="63.6" height="7.3" fill="url(#gFrontC)"/>
<polygon points="579.0,365.9 642.8,365.9 627.8,342.0 579.0,342.0" fill="url(#gGapC)"/>
<rect x="579.0" y="365.9" width="63.8" height="6.7" fill="url(#gFrontC)"/>
<polygon points="578.9,356.0 642.9,356.0 627.9,334.4 578.9,334.4" fill="url(#gTopC)"/>
<path d="M578.9 343.1L634.0 343.1" stroke="#f7c3c8" stroke-width="0.6" fill="none"/>
<rect x="578.9" y="356.0" width="64.0" height="5.7" fill="url(#gFrontC)"/>
<path d="M445.3 309.3L460.9 337.6L460.9 340.8L453.3 340.8L453.4 360C453.7 362.6 453.9 370.2 454.9 375.3C455.9 380.4 457.5 385.3 459.4 390.3C461.3 395.3 463.6 401.3 466.2 405.4C468.8 409.4 473.4 412.6 475.2 414.6C477.0 416.6 476.5 416.8 476.8 417.2L476.8 419.6L413.8 419.6L413.8 417.2C414.1 416.8 413.6 416.6 415.4 414.6C417.2 412.6 421.8 409.4 424.4 405.4C427.0 401.3 429.3 395.3 431.2 390.3C433.1 385.3 434.7 380.4 435.7 375.3C436.7 370.2 436.9 362.6 437.2 360.0L437.3 340.8L429.7 340.8L429.7 337.6Z" fill="url(#gArrC)"/>
<rect x="429.7" y="337.6" width="7.6" height="3.2" fill="#d9924e"/>
<rect x="453.3" y="337.6" width="7.6" height="3.2" fill="#d9924e"/>
<rect x="413.8" y="417" width="63" height="2.6" fill="#e9b98a" fill-opacity="0.75"/>
<path d="M528.9 309.3L544.5 337.6L544.5 340.8L536.9 340.8L537.0 360C537.2 362.6 537.5 370.2 538.5 375.3C539.5 380.4 541.1 385.3 543.0 390.3C544.9 395.3 547.2 401.3 549.8 405.4C552.4 409.4 557.0 412.6 558.8 414.6C560.6 416.6 560.1 416.8 560.4 417.2L560.4 419.6L497.4 419.6L497.4 417.2C497.7 416.8 497.2 416.6 499.0 414.6C500.8 412.6 505.4 409.4 508.0 405.4C510.6 401.3 512.9 395.3 514.8 390.3C516.7 385.3 518.3 380.4 519.3 375.3C520.3 370.2 520.5 362.6 520.8 360.0L520.9 340.8L513.3 340.8L513.3 337.6Z" fill="url(#gArrC)"/>
<rect x="513.3" y="337.6" width="7.6" height="3.2" fill="#d9924e"/>
<rect x="536.9" y="337.6" width="7.6" height="3.2" fill="#d9924e"/>
<rect x="497.4" y="417" width="63" height="2.6" fill="#e9b98a" fill-opacity="0.75"/>
<path d="M619.0 309.3L634.6 337.6L634.6 340.8L627.0 340.8L627.1 360C627.4 362.6 627.6 370.2 628.6 375.3C629.6 380.4 631.2 385.3 633.1 390.3C635.0 395.3 637.3 401.3 639.9 405.4C642.5 409.4 647.1 412.6 648.9 414.6C650.7 416.6 650.2 416.8 650.5 417.2L650.5 419.6L587.5 419.6L587.5 417.2C587.8 416.8 587.3 416.6 589.1 414.6C590.9 412.6 595.5 409.4 598.1 405.4C600.7 401.3 603.0 395.3 604.9 390.3C606.8 385.3 608.4 380.4 609.4 375.3C610.4 370.2 610.6 362.6 610.9 360.0L611.0 340.8L603.4 340.8L603.4 337.6Z" fill="url(#gArrC)"/>
<rect x="603.4" y="337.6" width="7.6" height="3.2" fill="#d9924e"/>
<rect x="627.0" y="337.6" width="7.6" height="3.2" fill="#d9924e"/>
<rect x="587.5" y="417" width="63" height="2.6" fill="#e9b98a" fill-opacity="0.75"/>
<path d="M690.6 309.3L706.2 337.6L706.2 340.8L698.6 340.8L698.7 360C699.0 362.6 699.2 370.2 700.2 375.3C701.2 380.4 702.8 385.3 704.7 390.3C706.6 395.3 708.9 401.3 711.5 405.4C714.1 409.4 718.7 412.6 720.5 414.6C722.3 416.6 721.8 416.8 722.1 417.2L722.1 419.6L659.1 419.6L659.1 417.2C659.4 416.8 658.9 416.6 660.7 414.6C662.5 412.6 667.1 409.4 669.7 405.4C672.3 401.3 674.6 395.3 676.5 390.3C678.4 385.3 680.0 380.4 681.0 375.3C682.0 370.2 682.2 362.6 682.5 360.0L682.6 340.8L675.0 340.8L675.0 337.6Z" fill="url(#gArrC)"/>
<rect x="675.0" y="337.6" width="7.6" height="3.2" fill="#d9924e"/>
<rect x="698.6" y="337.6" width="7.6" height="3.2" fill="#d9924e"/>
<rect x="659.1" y="417" width="63" height="2.6" fill="#e9b98a" fill-opacity="0.75"/>
<circle cx="443.7" cy="392.3" r="8.6" fill="url(#gE)"/><text x="442.0" y="396.7" font-size="14" fill="#fff" text-anchor="middle">e<tspan font-size="8" dy="-5.8">−</tspan></text>
<circle cx="527.2" cy="392.3" r="8.6" fill="url(#gE)"/><text x="525.5" y="396.7" font-size="14" fill="#fff" text-anchor="middle">e<tspan font-size="8" dy="-5.8">−</tspan></text>
<circle cx="617" cy="392.5" r="8.6" fill="url(#gE)"/><text x="615.3" y="396.9" font-size="14" fill="#fff" text-anchor="middle">e<tspan font-size="8" dy="-5.8">−</tspan></text>
<circle cx="692.2" cy="392.5" r="8.6" fill="url(#gE)"/><text x="690.5" y="396.9" font-size="14" fill="#fff" text-anchor="middle">e<tspan font-size="8" dy="-5.8">−</tspan></text>
<text x="393.5" y="319.5" font-size="26.5" font-weight="bold" fill="#000" stroke="#000" stroke-width="0.95">c</text>
</g>
</svg>
</body></html>
